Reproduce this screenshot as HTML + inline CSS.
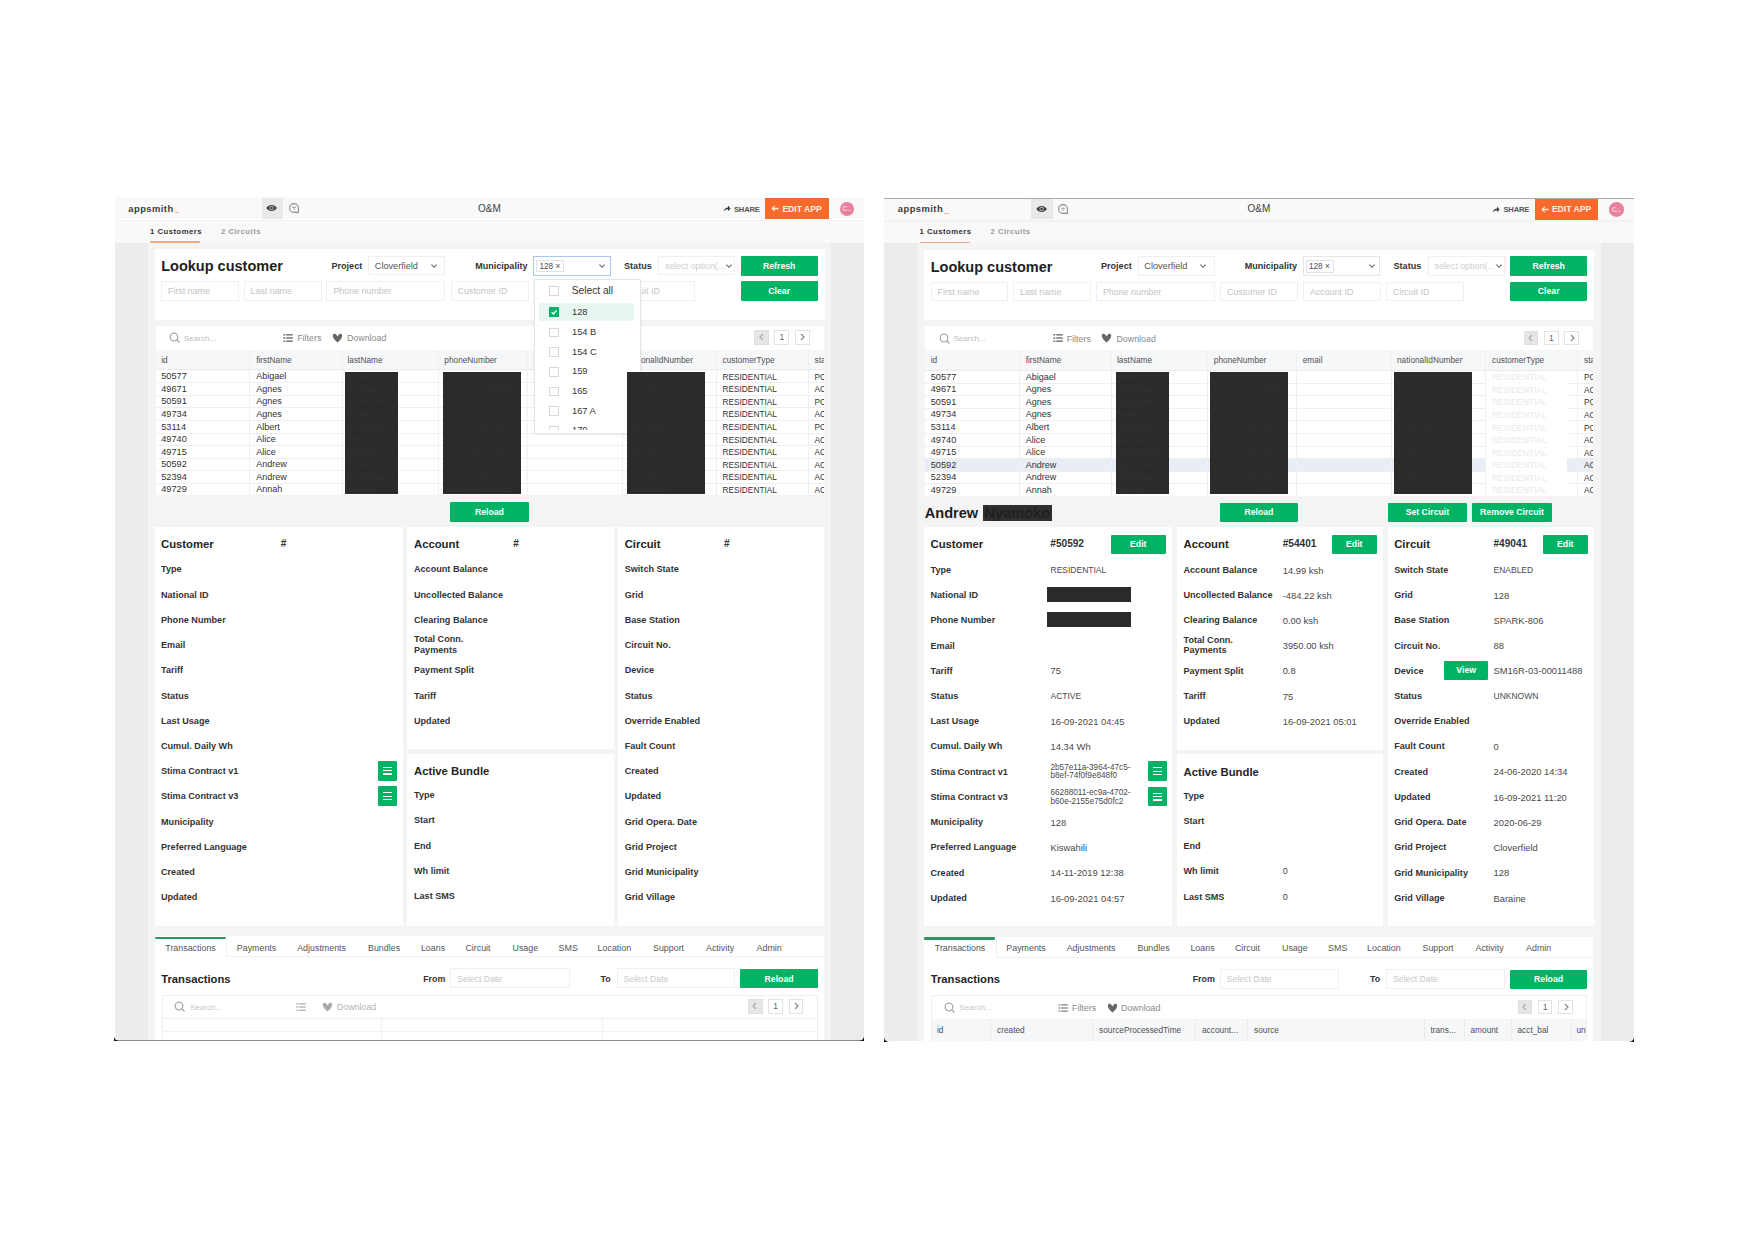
<!DOCTYPE html>
<html><head><meta charset="utf-8"><title>O&amp;M</title>
<style>
html,body{margin:0;padding:0;background:#fff;width:1748px;height:1240px;overflow:hidden;}
body{position:relative;font-family:"Liberation Sans",sans-serif;}
.a{position:absolute;}
.t{position:absolute;white-space:nowrap;}
svg.a{overflow:visible;}
</style></head><body>
<div class="a" style="left:0px;top:0px;width:1748px;height:1240px">
<div class="a" style="left:114.5px;top:197.1px;width:749.7px;height:843.4px;overflow:hidden"><div class="a" style="left:-114.5px;top:-197.1px;width:1748px;height:1240px">
<div class="a" style="left:114.5px;top:197.1px;width:749.7px;height:22.4px;background:#f9f9f9;"></div>
<div class="a" style="left:114.5px;top:219.5px;width:749.7px;height:23.5px;background:#f9f9f9;"></div>
<div class="a" style="left:114.5px;top:219.5px;width:749.7px;height:1.7px;background:#f2f2f2;"></div>
<div class="a" style="left:114.5px;top:242.9px;width:749.7px;height:797.6px;background:#ececec;"></div>
<div class="a" style="left:148px;top:242.9px;width:683px;height:797.6px;background:#f4f4f4;"></div>
<div class="t" style="left:128.3px;top:201.8px;height:13px;line-height:13px;font-size:9.4px;font-weight:700;color:#3b3b3b;letter-spacing:0.45px">appsmith</div>
<div class="a" style="left:174.8px;top:212px;width:4.7px;height:1px;background:#f0b89e;"></div>
<div class="a" style="left:261.6px;top:197.9px;width:21.5px;height:21.1px;background:#e9e9e9;"></div>
<svg class="a" style="left:266px;top:203px" width="12" height="10" viewBox="0 0 12 10"><path d="M0.4 5 C2.7 1.1 8.5 1.1 10.8 5 C8.5 8.9 2.7 8.9 0.4 5 Z" fill="#3a3a3a"/><circle cx="5.6" cy="5" r="2.3" fill="#b5b5b5"/><circle cx="5.6" cy="5" r="1.2" fill="#3a3a3a"/></svg>
<svg class="a" style="left:288.8px;top:203.1px" width="10.5" height="10.5" viewBox="0 0 10.5 10.5"><path d="M5 0.6 A4.4 4.4 0 0 0 5 9.4 L9.4 9.4 L9.4 5 A4.4 4.4 0 0 0 5 0.6 Z" fill="none" stroke="#8c8c8c" stroke-width="1.1"/><line x1="3.3" y1="4.3" x2="6.9" y2="4.3" stroke="#8c8c8c" stroke-width="0.9"/><line x1="4.4" y1="6" x2="5.8" y2="6" stroke="#8c8c8c" stroke-width="1"/></svg>
<div class="t" style="left:478px;top:201.8px;height:14px;line-height:14px;font-size:10px;font-weight:400;color:#3f3f3f;">O&amp;M</div>
<svg class="a" style="left:722.8px;top:205px" width="8" height="7" viewBox="0 0 8 7"><path d="M0.6 6.6 C1.2 3.8 3 2.6 5 2.6 L5 0.6 L7.6 3.4 L5 6.2 L5 4.3 C3.3 4.3 1.9 5 0.6 6.6 Z" fill="#3f3f3f"/></svg>
<div class="t" style="left:733.9px;top:203.5px;height:11px;line-height:11px;font-size:7.6px;font-weight:700;color:#555;letter-spacing:-0.15px">SHARE</div>
<div class="a" style="left:765.2px;top:197.9px;width:63.5px;height:21.3px;background:#f86a2b;"></div>
<svg class="a" style="left:771px;top:205.3px" width="8" height="7" viewBox="0 0 8 7"><path d="M7.6 3.5 L1.2 3.5 M3.8 0.9 L1.2 3.5 L3.8 6.1" fill="none" stroke="#ffe6d8" stroke-width="1.3"/></svg>
<div class="t" style="left:782.4px;top:202.9px;height:12px;line-height:12px;font-size:8.6px;font-weight:700;color:#fff0e8;">EDIT APP</div>
<div class="a" style="left:839.5px;top:201.6px;width:14.6px;height:14.6px;background:#e9809f;border-radius:50%"></div>
<div class="t" style="left:839.5px;width:14.6px;text-align:center;top:204.2px;height:10px;line-height:10px;font-size:7px;font-weight:700;color:#f8d0dc;">C..</div>
<div class="t" style="left:150px;top:225.7px;height:11px;line-height:11px;font-size:7.7px;font-weight:700;color:#333;letter-spacing:0.5px">1 Customers</div>
<div class="a" style="left:150px;top:241.2px;width:50.3px;height:1.4px;background:#f2a888;border-radius:1px"></div>
<div class="t" style="left:221px;top:225.7px;height:11px;line-height:11px;font-size:7.7px;font-weight:700;color:#9a9a9a;letter-spacing:0.5px">2 Circuits</div>
<div class="a" style="left:154.5px;top:249.3px;width:670.2px;height:70.3px;background:#fff;"></div>
<div class="t" style="left:161.2px;top:256.2px;height:20px;line-height:20px;font-size:14.5px;font-weight:700;color:#222;">Lookup customer</div>
<div class="t" style="left:331.5px;top:259.5px;height:13px;line-height:13px;font-size:9.05px;font-weight:700;color:#333;">Project</div>
<div class="a" style="left:368px;top:255.6px;width:77px;height:19.9px;background:#fff;box-sizing:border-box;border:1px solid #f0f0f0"></div>
<div class="t" style="left:374.8px;top:259.5px;height:13px;line-height:13px;font-size:9.15px;font-weight:400;color:#555;">Cloverfield</div>
<svg class="a" style="left:428.5px;top:260.8px" width="10" height="10" viewBox="0 0 10 10"><polyline points="2.4,3.7 5,6.3 7.6,3.7" fill="none" stroke="#666" stroke-width="1.1"/></svg>
<div class="t" style="left:475.2px;top:259.5px;height:13px;line-height:13px;font-size:9.05px;font-weight:700;color:#333;">Municipality</div>
<div class="a" style="left:533.2px;top:255.6px;width:77.6px;height:20.3px;background:#fff;box-sizing:border-box;border:1px solid #a9c9ea"></div>
<div class="a" style="left:536.3px;top:259.6px;width:28.1px;height:12.9px;background:#fff;box-sizing:border-box;border:1px solid #e2e2e2"></div>
<div class="t" style="left:539.5px;top:260.5px;height:11px;line-height:11px;font-size:8.2px;font-weight:400;color:#4a4a4a;">128 &#215;</div>
<svg class="a" style="left:597.3px;top:260.8px" width="10" height="10" viewBox="0 0 10 10"><polyline points="2.4,3.7 5,6.3 7.6,3.7" fill="none" stroke="#666" stroke-width="1.1"/></svg>
<div class="t" style="left:624px;top:259.5px;height:13px;line-height:13px;font-size:9.1px;font-weight:700;color:#333;">Status</div>
<div class="a" style="left:658px;top:255.6px;width:77.2px;height:19.9px;background:#fff;box-sizing:border-box;border:1px solid #f0f0f0"></div>
<div class="t" style="left:665px;top:259.95px;height:12px;line-height:12px;font-size:8.9px;font-weight:400;color:#cfcfcf;">select option(...</div>
<svg class="a" style="left:724px;top:260.8px" width="10" height="10" viewBox="0 0 10 10"><polyline points="2.4,3.7 5,6.3 7.6,3.7" fill="none" stroke="#666" stroke-width="1.1"/></svg>
<div class="a" style="left:740.6px;top:255.8px;width:77.2px;height:19.8px;background:#03b365;border-radius:1px"></div>
<div class="t" style="left:740.6px;width:77.2px;text-align:center;top:259.7px;height:12px;line-height:12px;font-size:8.7px;font-weight:700;color:#fff;">Refresh</div>
<div class="a" style="left:161px;top:281px;width:77.9px;height:19.8px;background:#fff;box-sizing:border-box;border:1px solid #f0f0f0"></div>
<div class="t" style="left:168px;top:285.3px;height:12px;line-height:12px;font-size:8.9px;font-weight:400;color:#c4c4c4;">First name</div>
<div class="a" style="left:243.5px;top:281px;width:78px;height:19.8px;background:#fff;box-sizing:border-box;border:1px solid #f0f0f0"></div>
<div class="t" style="left:250.5px;top:285.3px;height:12px;line-height:12px;font-size:8.9px;font-weight:400;color:#c4c4c4;">Last name</div>
<div class="a" style="left:326.4px;top:281px;width:119.1px;height:19.8px;background:#fff;box-sizing:border-box;border:1px solid #f0f0f0"></div>
<div class="t" style="left:333.4px;top:285.3px;height:12px;line-height:12px;font-size:8.9px;font-weight:400;color:#c4c4c4;">Phone number</div>
<div class="a" style="left:450.6px;top:281px;width:78.3px;height:19.8px;background:#fff;box-sizing:border-box;border:1px solid #f0f0f0"></div>
<div class="t" style="left:457.6px;top:285.3px;height:12px;line-height:12px;font-size:8.9px;font-weight:400;color:#c4c4c4;">Customer ID</div>
<div class="a" style="left:533.5px;top:281px;width:78px;height:19.8px;background:#fff;box-sizing:border-box;border:1px solid #f0f0f0"></div>
<div class="t" style="left:540.5px;top:285.3px;height:12px;line-height:12px;font-size:8.9px;font-weight:400;color:#c4c4c4;">Account ID</div>
<div class="a" style="left:616.5px;top:281px;width:78px;height:19.8px;background:#fff;box-sizing:border-box;border:1px solid #f0f0f0"></div>
<div class="t" style="left:623.5px;top:285.3px;height:12px;line-height:12px;font-size:8.9px;font-weight:400;color:#c4c4c4;">Circuit ID</div>
<div class="a" style="left:740.6px;top:281px;width:77.2px;height:19.8px;background:#03b365;border-radius:1px"></div>
<div class="t" style="left:740.6px;width:77.2px;text-align:center;top:284.9px;height:12px;line-height:12px;font-size:8.7px;font-weight:700;color:#fff;">Clear</div>
<div class="a" style="left:155.5px;top:325.7px;width:668.3px;height:169.6px;background:#fff;"></div>
<svg class="a" style="left:169px;top:332px" width="12" height="12" viewBox="0 0 12 12"><circle cx="5" cy="5" r="3.8" fill="none" stroke="#aaa" stroke-width="1.3"/><line x1="7.8" y1="7.8" x2="10.5" y2="10.5" stroke="#aaa" stroke-width="1.4"/></svg>
<div class="t" style="left:184px;top:332.7px;height:11px;line-height:11px;font-size:8px;font-weight:400;color:#bdbdbd;">Search...</div>
<svg class="a" style="left:283px;top:332.8px" width="10" height="10" viewBox="0 0 10 10"><rect x="0.3" y="1.05" width="2" height="1.5" fill="#777"/><rect x="3.2" y="1.05" width="6.6" height="1.5" fill="#777"/><rect x="0.3" y="4.25" width="2" height="1.5" fill="#777"/><rect x="3.2" y="4.25" width="6.6" height="1.5" fill="#777"/><rect x="0.3" y="7.45" width="2" height="1.5" fill="#777"/><rect x="3.2" y="7.45" width="6.6" height="1.5" fill="#777"/></svg>
<div class="t" style="left:297.2px;top:332px;height:12px;line-height:12px;font-size:8.9px;font-weight:400;color:#8a8a8a;">Filters</div>
<svg class="a" style="left:331.5px;top:332.8px" width="11" height="10" viewBox="0 0 11 10"><path d="M0.8 2.6 C0.8 0.9 2.4 0.4 3.6 0.9 L5.5 3.2 L7.4 0.9 C8.6 0.4 10.2 0.9 10.2 2.6 C10.2 5.4 7.6 7.9 5.5 9.6 C3.4 7.9 0.8 5.4 0.8 2.6 Z" fill="#666"/></svg>
<div class="t" style="left:346.9px;top:332px;height:12px;line-height:12px;font-size:8.9px;font-weight:400;color:#8a8a8a;">Download</div>
<div class="a" style="left:754.2px;top:330.1px;width:14.8px;height:14.5px;background:#e6e6e6;box-sizing:border-box;border:1px solid #e0e0e0"></div>
<div class="a" style="left:774.4px;top:330.1px;width:14.8px;height:14.5px;background:#fff;box-sizing:border-box;border:1px solid #e3e3e3"></div>
<div class="a" style="left:794.8px;top:330.1px;width:14.8px;height:14.5px;background:#fff;box-sizing:border-box;border:1px solid #e3e3e3"></div>
<svg class="a" style="left:757.6px;top:333.35px" width="8" height="8" viewBox="0 0 8 8"><polyline points="5,1 2,4 5,7" fill="none" stroke="#aaa" stroke-width="1.2"/></svg>
<div class="t" style="left:774.4px;width:14.8px;text-align:center;top:331.35px;height:12px;line-height:12px;font-size:8.5px;font-weight:400;color:#666;">1</div>
<svg class="a" style="left:798.2px;top:333.35px" width="8" height="8" viewBox="0 0 8 8"><polyline points="3,1 6,4 3,7" fill="none" stroke="#888" stroke-width="1.2"/></svg>
<div class="a" style="left:155.5px;top:325.7px;width:668.3px;height:169.6px;overflow:hidden"><div class="a" style="left:-155.5px;top:-325.7px;width:1748px;height:1240px">
<div class="a" style="left:155.5px;top:349.5px;width:668.3px;height:20px;background:#f6f7f9;"></div>
<div class="a" style="left:155.5px;top:369.2px;width:668.3px;height:0.8px;background:#e9eaec;"></div>
<div class="a" style="left:155.5px;top:382.18px;width:668.3px;height:0.8px;background:#efefef;"></div>
<div class="a" style="left:155.5px;top:394.76px;width:668.3px;height:0.8px;background:#efefef;"></div>
<div class="a" style="left:155.5px;top:407.34px;width:668.3px;height:0.8px;background:#efefef;"></div>
<div class="a" style="left:155.5px;top:419.92px;width:668.3px;height:0.8px;background:#efefef;"></div>
<div class="a" style="left:155.5px;top:432.5px;width:668.3px;height:0.8px;background:#efefef;"></div>
<div class="a" style="left:155.5px;top:445.08px;width:668.3px;height:0.8px;background:#efefef;"></div>
<div class="a" style="left:155.5px;top:457.66px;width:668.3px;height:0.8px;background:#efefef;"></div>
<div class="a" style="left:155.5px;top:470.24px;width:668.3px;height:0.8px;background:#efefef;"></div>
<div class="a" style="left:155.5px;top:482.82px;width:668.3px;height:0.8px;background:#efefef;"></div>
<div class="a" style="left:249.1px;top:349.5px;width:0.8px;height:145.8px;background:#f0f0f0;"></div>
<div class="a" style="left:341.7px;top:349.5px;width:0.8px;height:145.8px;background:#f0f0f0;"></div>
<div class="a" style="left:437.9px;top:349.5px;width:0.8px;height:145.8px;background:#f0f0f0;"></div>
<div class="a" style="left:526.5px;top:349.5px;width:0.8px;height:145.8px;background:#f0f0f0;"></div>
<div class="a" style="left:621.5px;top:349.5px;width:0.8px;height:145.8px;background:#f0f0f0;"></div>
<div class="a" style="left:715.8px;top:349.5px;width:0.8px;height:145.8px;background:#f0f0f0;"></div>
<div class="a" style="left:807.8px;top:349.5px;width:0.8px;height:145.8px;background:#f0f0f0;"></div>
<div class="t" style="left:161.2px;top:353.6px;height:12px;line-height:12px;font-size:8.3px;font-weight:400;color:#505050;">id</div>
<div class="t" style="left:256.2px;top:353.6px;height:12px;line-height:12px;font-size:8.3px;font-weight:400;color:#505050;">firstName</div>
<div class="t" style="left:347.5px;top:353.6px;height:12px;line-height:12px;font-size:8.3px;font-weight:400;color:#505050;">lastName</div>
<div class="t" style="left:444.3px;top:353.6px;height:12px;line-height:12px;font-size:8.3px;font-weight:400;color:#505050;">phoneNumber</div>
<div class="t" style="left:627.5px;top:353.6px;height:12px;line-height:12px;font-size:8.3px;font-weight:400;color:#505050;">nationalIdNumber</div>
<div class="t" style="left:722.5px;top:353.6px;height:12px;line-height:12px;font-size:8.3px;font-weight:400;color:#505050;">customerType</div>
<div class="t" style="left:814.5px;top:353.6px;height:12px;line-height:12px;font-size:8.3px;font-weight:400;color:#505050;">status</div>
<div class="t" style="left:161.2px;top:370.19px;height:13px;line-height:13px;font-size:9.2px;font-weight:400;color:#333;">50577</div>
<div class="t" style="left:256.2px;top:370.19px;height:13px;line-height:13px;font-size:9.05px;font-weight:400;color:#333;">Abigael</div>
<div class="t" style="left:814.5px;top:370.69px;height:12px;line-height:12px;font-size:8.3px;font-weight:400;color:#333;">PO</div>
<div class="t" style="left:161.2px;top:382.77px;height:13px;line-height:13px;font-size:9.2px;font-weight:400;color:#333;">49671</div>
<div class="t" style="left:256.2px;top:382.77px;height:13px;line-height:13px;font-size:9.05px;font-weight:400;color:#333;">Agnes</div>
<div class="t" style="left:814.5px;top:383.27px;height:12px;line-height:12px;font-size:8.3px;font-weight:400;color:#333;">AC</div>
<div class="t" style="left:161.2px;top:395.35px;height:13px;line-height:13px;font-size:9.2px;font-weight:400;color:#333;">50591</div>
<div class="t" style="left:256.2px;top:395.35px;height:13px;line-height:13px;font-size:9.05px;font-weight:400;color:#333;">Agnes</div>
<div class="t" style="left:814.5px;top:395.85px;height:12px;line-height:12px;font-size:8.3px;font-weight:400;color:#333;">PO</div>
<div class="t" style="left:161.2px;top:407.93px;height:13px;line-height:13px;font-size:9.2px;font-weight:400;color:#333;">49734</div>
<div class="t" style="left:256.2px;top:407.93px;height:13px;line-height:13px;font-size:9.05px;font-weight:400;color:#333;">Agnes</div>
<div class="t" style="left:814.5px;top:408.43px;height:12px;line-height:12px;font-size:8.3px;font-weight:400;color:#333;">AC</div>
<div class="t" style="left:161.2px;top:420.51px;height:13px;line-height:13px;font-size:9.2px;font-weight:400;color:#333;">53114</div>
<div class="t" style="left:256.2px;top:420.51px;height:13px;line-height:13px;font-size:9.05px;font-weight:400;color:#333;">Albert</div>
<div class="t" style="left:814.5px;top:421.01px;height:12px;line-height:12px;font-size:8.3px;font-weight:400;color:#333;">PO</div>
<div class="t" style="left:161.2px;top:433.09px;height:13px;line-height:13px;font-size:9.2px;font-weight:400;color:#333;">49740</div>
<div class="t" style="left:256.2px;top:433.09px;height:13px;line-height:13px;font-size:9.05px;font-weight:400;color:#333;">Alice</div>
<div class="t" style="left:814.5px;top:433.59px;height:12px;line-height:12px;font-size:8.3px;font-weight:400;color:#333;">AC</div>
<div class="t" style="left:161.2px;top:445.67px;height:13px;line-height:13px;font-size:9.2px;font-weight:400;color:#333;">49715</div>
<div class="t" style="left:256.2px;top:445.67px;height:13px;line-height:13px;font-size:9.05px;font-weight:400;color:#333;">Alice</div>
<div class="t" style="left:814.5px;top:446.17px;height:12px;line-height:12px;font-size:8.3px;font-weight:400;color:#333;">AC</div>
<div class="t" style="left:161.2px;top:458.25px;height:13px;line-height:13px;font-size:9.2px;font-weight:400;color:#333;">50592</div>
<div class="t" style="left:256.2px;top:458.25px;height:13px;line-height:13px;font-size:9.05px;font-weight:400;color:#333;">Andrew</div>
<div class="t" style="left:814.5px;top:458.75px;height:12px;line-height:12px;font-size:8.3px;font-weight:400;color:#333;">AC</div>
<div class="t" style="left:161.2px;top:470.83px;height:13px;line-height:13px;font-size:9.2px;font-weight:400;color:#333;">52394</div>
<div class="t" style="left:256.2px;top:470.83px;height:13px;line-height:13px;font-size:9.05px;font-weight:400;color:#333;">Andrew</div>
<div class="t" style="left:814.5px;top:471.33px;height:12px;line-height:12px;font-size:8.3px;font-weight:400;color:#333;">AC</div>
<div class="t" style="left:161.2px;top:483.41px;height:13px;line-height:13px;font-size:9.2px;font-weight:400;color:#333;">49729</div>
<div class="t" style="left:256.2px;top:483.41px;height:13px;line-height:13px;font-size:9.05px;font-weight:400;color:#333;">Annah</div>
<div class="t" style="left:814.5px;top:483.91px;height:12px;line-height:12px;font-size:8.3px;font-weight:400;color:#333;">AC</div>
<div class="t" style="left:722.5px;top:370.69px;height:12px;line-height:12px;font-size:8.3px;font-weight:400;color:#333;">RESIDENTIAL</div>
<div class="t" style="left:722.5px;top:383.27px;height:12px;line-height:12px;font-size:8.3px;font-weight:400;color:#333;">RESIDENTIAL</div>
<div class="t" style="left:722.5px;top:395.85px;height:12px;line-height:12px;font-size:8.3px;font-weight:400;color:#333;">RESIDENTIAL</div>
<div class="t" style="left:722.5px;top:408.43px;height:12px;line-height:12px;font-size:8.3px;font-weight:400;color:#333;">RESIDENTIAL</div>
<div class="t" style="left:722.5px;top:421.01px;height:12px;line-height:12px;font-size:8.3px;font-weight:400;color:#333;">RESIDENTIAL</div>
<div class="t" style="left:722.5px;top:433.59px;height:12px;line-height:12px;font-size:8.3px;font-weight:400;color:#333;">RESIDENTIAL</div>
<div class="t" style="left:722.5px;top:446.17px;height:12px;line-height:12px;font-size:8.3px;font-weight:400;color:#333;">RESIDENTIAL</div>
<div class="t" style="left:722.5px;top:458.75px;height:12px;line-height:12px;font-size:8.3px;font-weight:400;color:#333;">RESIDENTIAL</div>
<div class="t" style="left:722.5px;top:471.33px;height:12px;line-height:12px;font-size:8.3px;font-weight:400;color:#333;">RESIDENTIAL</div>
<div class="t" style="left:722.5px;top:483.91px;height:12px;line-height:12px;font-size:8.3px;font-weight:400;color:#333;">RESIDENTIAL</div>
</div></div>
<div class="a" style="left:533.5px;top:278.5px;width:107.3px;height:155.9px;background:#fff;box-sizing:border-box;border:1px solid #e4e4e4;box-shadow:0 1px 3px rgba(0,0,0,0.08)"></div>
<div class="a" style="left:549px;top:285.7px;width:10px;height:9.9px;background:#fff;box-sizing:border-box;border:1px solid #d6d6d6"></div>
<div class="t" style="left:571.8px;top:283.5px;height:14px;line-height:14px;font-size:10.2px;font-weight:400;color:#333;">Select all</div>
<div class="a" style="left:538.6px;top:303.3px;width:95.7px;height:18.1px;background:#e7f7ef;"></div>
<div class="a" style="left:549px;top:307.3px;width:10px;height:9.9px;background:#03b365;"></div>
<svg class="a" style="left:549px;top:307.3px" width="10" height="10" viewBox="0 0 10 10"><polyline points="2.6,5.2 4.4,7 7.6,3.4" fill="none" stroke="#fff" stroke-width="1.3"/></svg>
<div class="t" style="left:572px;top:305.8px;height:13px;line-height:13px;font-size:9.3px;font-weight:400;color:#333;">128</div>
<div class="a" style="left:534.5px;top:279.5px;width:105.3px;height:150.3px;overflow:hidden"><div class="a" style="left:-534.5px;top:-279.5px;width:1748px;height:1240px">
<div class="a" style="left:549px;top:327.7px;width:10px;height:9.8px;background:#fff;box-sizing:border-box;border:1px solid #d9d9d9"></div>
<div class="t" style="left:572px;top:326.1px;height:13px;line-height:13px;font-size:9.3px;font-weight:400;color:#333;">154 B</div>
<div class="a" style="left:549px;top:347.2px;width:10px;height:9.8px;background:#fff;box-sizing:border-box;border:1px solid #d9d9d9"></div>
<div class="t" style="left:572px;top:345.6px;height:13px;line-height:13px;font-size:9.3px;font-weight:400;color:#333;">154 C</div>
<div class="a" style="left:549px;top:366.8px;width:10px;height:9.8px;background:#fff;box-sizing:border-box;border:1px solid #d9d9d9"></div>
<div class="t" style="left:572px;top:365.2px;height:13px;line-height:13px;font-size:9.3px;font-weight:400;color:#333;">159</div>
<div class="a" style="left:549px;top:386.5px;width:10px;height:9.8px;background:#fff;box-sizing:border-box;border:1px solid #d9d9d9"></div>
<div class="t" style="left:572px;top:384.9px;height:13px;line-height:13px;font-size:9.3px;font-weight:400;color:#333;">165</div>
<div class="a" style="left:549px;top:406.1px;width:10px;height:9.8px;background:#fff;box-sizing:border-box;border:1px solid #d9d9d9"></div>
<div class="t" style="left:572px;top:404.5px;height:13px;line-height:13px;font-size:9.3px;font-weight:400;color:#333;">167 A</div>
<div class="a" style="left:549px;top:425.7px;width:10px;height:9.8px;background:#fff;box-sizing:border-box;border:1px solid #d9d9d9"></div>
<div class="t" style="left:572px;top:424.1px;height:13px;line-height:13px;font-size:9.3px;font-weight:400;color:#333;">170</div>
</div></div>
<div class="a" style="left:344.8px;top:371.8px;width:53.2px;height:121.8px;background:#2b2b2b;"></div>
<div class="a" style="left:344.8px;top:371.8px;width:53.2px;height:121.8px;overflow:hidden"><div class="a" style="left:-344.8px;top:-371.8px;width:1748px;height:1240px">
<div class="t" style="left:347.5px;top:370.19px;height:13px;line-height:13px;font-size:9.2px;font-weight:400;color:#313131;">Mwangi</div>
<div class="t" style="left:347.5px;top:382.77px;height:13px;line-height:13px;font-size:9.2px;font-weight:400;color:#313131;">Chebeta</div>
<div class="t" style="left:347.5px;top:395.35px;height:13px;line-height:13px;font-size:9.2px;font-weight:400;color:#313131;">Nyamoko</div>
<div class="t" style="left:347.5px;top:407.93px;height:13px;line-height:13px;font-size:9.2px;font-weight:400;color:#313131;">Nyakio</div>
<div class="t" style="left:347.5px;top:420.51px;height:13px;line-height:13px;font-size:9.2px;font-weight:400;color:#313131;">Ochienge</div>
<div class="t" style="left:347.5px;top:433.09px;height:13px;line-height:13px;font-size:9.2px;font-weight:400;color:#313131;">Wafula</div>
<div class="t" style="left:347.5px;top:445.67px;height:13px;line-height:13px;font-size:9.2px;font-weight:400;color:#313131;">Nyambura</div>
<div class="t" style="left:347.5px;top:458.25px;height:13px;line-height:13px;font-size:9.2px;font-weight:400;color:#313131;">Nyamoko</div>
<div class="t" style="left:347.5px;top:470.83px;height:13px;line-height:13px;font-size:9.2px;font-weight:400;color:#313131;">Ochienge</div>
<div class="t" style="left:347.5px;top:483.41px;height:13px;line-height:13px;font-size:9.2px;font-weight:400;color:#313131;">Wanja</div>
</div></div>
<div class="a" style="left:442.6px;top:371.8px;width:78.2px;height:121.8px;background:#2b2b2b;"></div>
<div class="a" style="left:442.6px;top:371.8px;width:78.2px;height:121.8px;overflow:hidden"><div class="a" style="left:-442.6px;top:-371.8px;width:1748px;height:1240px">
<div class="t" style="left:446.3px;top:370.19px;height:13px;line-height:13px;font-size:9.2px;font-weight:400;color:#303030;">+254700040801</div>
<div class="t" style="left:446.3px;top:382.77px;height:13px;line-height:13px;font-size:9.2px;font-weight:400;color:#303030;">+254713745891</div>
<div class="t" style="left:446.3px;top:395.35px;height:13px;line-height:13px;font-size:9.2px;font-weight:400;color:#303030;">+254726440881</div>
<div class="t" style="left:446.3px;top:407.93px;height:13px;line-height:13px;font-size:9.2px;font-weight:400;color:#303030;">+254739145871</div>
<div class="t" style="left:446.3px;top:420.51px;height:13px;line-height:13px;font-size:9.2px;font-weight:400;color:#303030;">+254742840861</div>
<div class="t" style="left:446.3px;top:433.09px;height:13px;line-height:13px;font-size:9.2px;font-weight:400;color:#303030;">+254755545851</div>
<div class="t" style="left:446.3px;top:445.67px;height:13px;line-height:13px;font-size:9.2px;font-weight:400;color:#303030;">+254768240841</div>
<div class="t" style="left:446.3px;top:458.25px;height:13px;line-height:13px;font-size:9.2px;font-weight:400;color:#303030;">+254771945831</div>
<div class="t" style="left:446.3px;top:470.83px;height:13px;line-height:13px;font-size:9.2px;font-weight:400;color:#303030;">+254784640821</div>
<div class="t" style="left:446.3px;top:483.41px;height:13px;line-height:13px;font-size:9.2px;font-weight:400;color:#303030;">+254797345811</div>
</div></div>
<div class="a" style="left:626.8px;top:371.8px;width:77.8px;height:121.8px;background:#2b2b2b;"></div>
<div class="a" style="left:626.8px;top:371.8px;width:77.8px;height:121.8px;overflow:hidden"><div class="a" style="left:-626.8px;top:-371.8px;width:1748px;height:1240px">
<div class="t" style="left:631.5px;top:370.19px;height:13px;line-height:13px;font-size:9.2px;font-weight:400;color:#303030;">2000000</div>
<div class="t" style="left:631.5px;top:382.77px;height:13px;line-height:13px;font-size:9.2px;font-weight:400;color:#303030;">2371924</div>
<div class="t" style="left:631.5px;top:395.35px;height:13px;line-height:13px;font-size:9.2px;font-weight:400;color:#303030;">2642848</div>
<div class="t" style="left:631.5px;top:407.93px;height:13px;line-height:13px;font-size:9.2px;font-weight:400;color:#303030;">2913762</div>
<div class="t" style="left:631.5px;top:420.51px;height:13px;line-height:13px;font-size:9.2px;font-weight:400;color:#303030;">2284686</div>
<div class="t" style="left:631.5px;top:433.09px;height:13px;line-height:13px;font-size:9.2px;font-weight:400;color:#303030;">2555500</div>
<div class="t" style="left:631.5px;top:445.67px;height:13px;line-height:13px;font-size:9.2px;font-weight:400;color:#303030;">2826424</div>
<div class="t" style="left:631.5px;top:458.25px;height:13px;line-height:13px;font-size:9.2px;font-weight:400;color:#303030;">2197348</div>
<div class="t" style="left:631.5px;top:470.83px;height:13px;line-height:13px;font-size:9.2px;font-weight:400;color:#303030;">2468262</div>
<div class="t" style="left:631.5px;top:483.41px;height:13px;line-height:13px;font-size:9.2px;font-weight:400;color:#303030;">2739186</div>
</div></div>
<div class="a" style="left:450px;top:502.2px;width:78.9px;height:19.4px;background:#03b365;border-radius:1px"></div>
<div class="t" style="left:450px;width:78.9px;text-align:center;top:505.9px;height:12px;line-height:12px;font-size:8.7px;font-weight:700;color:#fff;">Reload</div>
<div class="a" style="left:154.5px;top:526.8px;width:248.3px;height:399px;background:#fff;"></div>
<div class="a" style="left:407.2px;top:526.8px;width:206.4px;height:222.5px;background:#fff;"></div>
<div class="a" style="left:407.2px;top:753.7px;width:206.4px;height:172.1px;background:#fff;"></div>
<div class="a" style="left:618.2px;top:526.8px;width:206.3px;height:399px;background:#fff;"></div>
<div class="t" style="left:161px;top:535.8px;height:16px;line-height:16px;font-size:11.3px;font-weight:700;color:#252525;">Customer</div>
<div class="t" style="left:280.8px;top:536.8px;height:14px;line-height:14px;font-size:10.1px;font-weight:700;color:#333;">#</div>
<div class="t" style="left:161px;top:563.3px;height:13px;line-height:13px;font-size:9.1px;font-weight:700;color:#333;">Type</div>
<div class="t" style="left:161px;top:588.54px;height:13px;line-height:13px;font-size:9.1px;font-weight:700;color:#333;">National ID</div>
<div class="t" style="left:161px;top:613.78px;height:13px;line-height:13px;font-size:9.1px;font-weight:700;color:#333;">Phone Number</div>
<div class="t" style="left:161px;top:639.02px;height:13px;line-height:13px;font-size:9.1px;font-weight:700;color:#333;">Email</div>
<div class="t" style="left:161px;top:664.26px;height:13px;line-height:13px;font-size:9.1px;font-weight:700;color:#333;">Tariff</div>
<div class="t" style="left:161px;top:689.5px;height:13px;line-height:13px;font-size:9.1px;font-weight:700;color:#333;">Status</div>
<div class="t" style="left:161px;top:714.74px;height:13px;line-height:13px;font-size:9.1px;font-weight:700;color:#333;">Last Usage</div>
<div class="t" style="left:161px;top:739.98px;height:13px;line-height:13px;font-size:9.1px;font-weight:700;color:#333;">Cumul. Daily Wh</div>
<div class="t" style="left:161px;top:765.22px;height:13px;line-height:13px;font-size:9.1px;font-weight:700;color:#333;">Stima Contract v1</div>
<div class="t" style="left:161px;top:790.46px;height:13px;line-height:13px;font-size:9.1px;font-weight:700;color:#333;">Stima Contract v3</div>
<div class="t" style="left:161px;top:815.7px;height:13px;line-height:13px;font-size:9.1px;font-weight:700;color:#333;">Municipality</div>
<div class="t" style="left:161px;top:840.94px;height:13px;line-height:13px;font-size:9.1px;font-weight:700;color:#333;">Preferred Language</div>
<div class="t" style="left:161px;top:866.18px;height:13px;line-height:13px;font-size:9.1px;font-weight:700;color:#333;">Created</div>
<div class="t" style="left:161px;top:891.42px;height:13px;line-height:13px;font-size:9.1px;font-weight:700;color:#333;">Updated</div>
<div class="a" style="left:378.3px;top:760.8px;width:19px;height:19.8px;background:#03b365;border-radius:1px"></div>
<div class="a" style="left:383.43px;top:766.73px;width:8.74px;height:1.2px;background:#fff;"></div>
<div class="a" style="left:383.43px;top:770.1px;width:8.74px;height:1.2px;background:#fff;"></div>
<div class="a" style="left:383.43px;top:773.47px;width:8.74px;height:1.2px;background:#fff;"></div>
<div class="a" style="left:378.3px;top:786.2px;width:19px;height:19.8px;background:#03b365;border-radius:1px"></div>
<div class="a" style="left:383.43px;top:792.13px;width:8.74px;height:1.2px;background:#fff;"></div>
<div class="a" style="left:383.43px;top:795.5px;width:8.74px;height:1.2px;background:#fff;"></div>
<div class="a" style="left:383.43px;top:798.87px;width:8.74px;height:1.2px;background:#fff;"></div>
<div class="t" style="left:414px;top:535.8px;height:16px;line-height:16px;font-size:11.3px;font-weight:700;color:#252525;">Account</div>
<div class="t" style="left:513.2px;top:536.8px;height:14px;line-height:14px;font-size:10.1px;font-weight:700;color:#333;">#</div>
<div class="t" style="left:414px;top:563.3px;height:13px;line-height:13px;font-size:9.1px;font-weight:700;color:#333;">Account Balance</div>
<div class="t" style="left:414px;top:588.54px;height:13px;line-height:13px;font-size:9.1px;font-weight:700;color:#333;">Uncollected Balance</div>
<div class="t" style="left:414px;top:613.78px;height:13px;line-height:13px;font-size:9.1px;font-weight:700;color:#333;">Clearing Balance</div>
<div class="t" style="left:414px;top:664.26px;height:13px;line-height:13px;font-size:9.1px;font-weight:700;color:#333;">Payment Split</div>
<div class="t" style="left:414px;top:689.5px;height:13px;line-height:13px;font-size:9.1px;font-weight:700;color:#333;">Tariff</div>
<div class="t" style="left:414px;top:714.74px;height:13px;line-height:13px;font-size:9.1px;font-weight:700;color:#333;">Updated</div>
<div class="t" style="left:414px;top:633.1px;height:13px;line-height:13px;font-size:9.1px;font-weight:700;color:#333;">Total Conn.</div>
<div class="t" style="left:414px;top:643.7px;height:13px;line-height:13px;font-size:9.1px;font-weight:700;color:#333;">Payments</div>
<div class="t" style="left:414px;top:763px;height:16px;line-height:16px;font-size:11.3px;font-weight:700;color:#252525;">Active Bundle</div>
<div class="t" style="left:414px;top:789.2px;height:13px;line-height:13px;font-size:9.1px;font-weight:700;color:#333;">Type</div>
<div class="t" style="left:414px;top:814.4px;height:13px;line-height:13px;font-size:9.1px;font-weight:700;color:#333;">Start</div>
<div class="t" style="left:414px;top:839.6px;height:13px;line-height:13px;font-size:9.1px;font-weight:700;color:#333;">End</div>
<div class="t" style="left:414px;top:864.8px;height:13px;line-height:13px;font-size:9.1px;font-weight:700;color:#333;">Wh limit</div>
<div class="t" style="left:414px;top:890px;height:13px;line-height:13px;font-size:9.1px;font-weight:700;color:#333;">Last SMS</div>
<div class="t" style="left:624.7px;top:535.8px;height:16px;line-height:16px;font-size:11.3px;font-weight:700;color:#252525;">Circuit</div>
<div class="t" style="left:724px;top:536.8px;height:14px;line-height:14px;font-size:10.1px;font-weight:700;color:#333;">#</div>
<div class="t" style="left:624.7px;top:563.3px;height:13px;line-height:13px;font-size:9.1px;font-weight:700;color:#333;">Switch State</div>
<div class="t" style="left:624.7px;top:588.54px;height:13px;line-height:13px;font-size:9.1px;font-weight:700;color:#333;">Grid</div>
<div class="t" style="left:624.7px;top:613.78px;height:13px;line-height:13px;font-size:9.1px;font-weight:700;color:#333;">Base Station</div>
<div class="t" style="left:624.7px;top:639.02px;height:13px;line-height:13px;font-size:9.1px;font-weight:700;color:#333;">Circuit No.</div>
<div class="t" style="left:624.7px;top:664.26px;height:13px;line-height:13px;font-size:9.1px;font-weight:700;color:#333;">Device</div>
<div class="t" style="left:624.7px;top:689.5px;height:13px;line-height:13px;font-size:9.1px;font-weight:700;color:#333;">Status</div>
<div class="t" style="left:624.7px;top:714.74px;height:13px;line-height:13px;font-size:9.1px;font-weight:700;color:#333;">Override Enabled</div>
<div class="t" style="left:624.7px;top:739.98px;height:13px;line-height:13px;font-size:9.1px;font-weight:700;color:#333;">Fault Count</div>
<div class="t" style="left:624.7px;top:765.22px;height:13px;line-height:13px;font-size:9.1px;font-weight:700;color:#333;">Created</div>
<div class="t" style="left:624.7px;top:790.46px;height:13px;line-height:13px;font-size:9.1px;font-weight:700;color:#333;">Updated</div>
<div class="t" style="left:624.7px;top:815.7px;height:13px;line-height:13px;font-size:9.1px;font-weight:700;color:#333;">Grid Opera. Date</div>
<div class="t" style="left:624.7px;top:840.94px;height:13px;line-height:13px;font-size:9.1px;font-weight:700;color:#333;">Grid Project</div>
<div class="t" style="left:624.7px;top:866.18px;height:13px;line-height:13px;font-size:9.1px;font-weight:700;color:#333;">Grid Municipality</div>
<div class="t" style="left:624.7px;top:891.42px;height:13px;line-height:13px;font-size:9.1px;font-weight:700;color:#333;">Grid Village</div>
<div class="a" style="left:154.6px;top:936.3px;width:669.4px;height:108.7px;background:#fff;"></div>
<div class="a" style="left:226.4px;top:956.3px;width:597.6px;height:0.8px;background:#efefef;"></div>
<div class="a" style="left:226px;top:939px;width:0.8px;height:18px;background:#f0f0f0;"></div>
<div class="a" style="left:154.6px;top:936.6px;width:71.4px;height:2.8px;background:#2f9462;border-radius:1px"></div>
<div class="t" style="left:165.3px;top:941.6px;height:12px;line-height:12px;font-size:8.9px;font-weight:400;color:#555;">Transactions</div>
<div class="t" style="left:236.8px;top:941.6px;height:12px;line-height:12px;font-size:8.9px;font-weight:400;color:#555;">Payments</div>
<div class="t" style="left:297.2px;top:941.6px;height:12px;line-height:12px;font-size:8.9px;font-weight:400;color:#555;">Adjustments</div>
<div class="t" style="left:368px;top:941.6px;height:12px;line-height:12px;font-size:8.9px;font-weight:400;color:#555;">Bundles</div>
<div class="t" style="left:420.9px;top:941.6px;height:12px;line-height:12px;font-size:8.9px;font-weight:400;color:#555;">Loans</div>
<div class="t" style="left:465.4px;top:941.6px;height:12px;line-height:12px;font-size:8.9px;font-weight:400;color:#555;">Circuit</div>
<div class="t" style="left:512.5px;top:941.6px;height:12px;line-height:12px;font-size:8.9px;font-weight:400;color:#555;">Usage</div>
<div class="t" style="left:558.6px;top:941.6px;height:12px;line-height:12px;font-size:8.9px;font-weight:400;color:#555;">SMS</div>
<div class="t" style="left:597.6px;top:941.6px;height:12px;line-height:12px;font-size:8.9px;font-weight:400;color:#555;">Location</div>
<div class="t" style="left:653px;top:941.6px;height:12px;line-height:12px;font-size:8.9px;font-weight:400;color:#555;">Support</div>
<div class="t" style="left:706px;top:941.6px;height:12px;line-height:12px;font-size:8.9px;font-weight:400;color:#555;">Activity</div>
<div class="t" style="left:756.6px;top:941.6px;height:12px;line-height:12px;font-size:8.9px;font-weight:400;color:#555;">Admin</div>
<div class="t" style="left:161.2px;top:970.9px;height:16px;line-height:16px;font-size:11.25px;font-weight:700;color:#252525;">Transactions</div>
<div class="t" style="left:423.2px;top:972.6px;height:12px;line-height:12px;font-size:8.85px;font-weight:700;color:#333;">From</div>
<div class="a" style="left:450.3px;top:968.3px;width:119.6px;height:20.1px;background:#fff;box-sizing:border-box;border:1px solid #f0f0f0"></div>
<div class="t" style="left:457.3px;top:972.75px;height:12px;line-height:12px;font-size:8.7px;font-weight:400;color:#c8c8c8;">Select Date</div>
<div class="t" style="left:600.5px;top:972.6px;height:12px;line-height:12px;font-size:8.85px;font-weight:700;color:#333;">To</div>
<div class="a" style="left:616.5px;top:968.3px;width:118.8px;height:20.1px;background:#fff;box-sizing:border-box;border:1px solid #f0f0f0"></div>
<div class="t" style="left:623.5px;top:972.75px;height:12px;line-height:12px;font-size:8.7px;font-weight:400;color:#c8c8c8;">Select Date</div>
<div class="a" style="left:740.3px;top:969px;width:77.5px;height:19.4px;background:#03b365;border-radius:1px"></div>
<div class="t" style="left:740.3px;width:77.5px;text-align:center;top:972.7px;height:12px;line-height:12px;font-size:8.7px;font-weight:700;color:#fff;">Reload</div>
<div class="a" style="left:161.6px;top:994.6px;width:656.2px;height:50.4px;background:#fff;box-sizing:border-box;border:1px solid #eeeeee"></div>
<svg class="a" style="left:174px;top:1001.3px" width="12" height="12" viewBox="0 0 12 12"><circle cx="5" cy="5" r="3.8" fill="none" stroke="#aaa" stroke-width="1.3"/><line x1="7.8" y1="7.8" x2="10.5" y2="10.5" stroke="#aaa" stroke-width="1.4"/></svg>
<div class="t" style="left:190px;top:1001.9px;height:11px;line-height:11px;font-size:8px;font-weight:400;color:#c4c4c4;">Search...</div>
<svg class="a" style="left:295.6px;top:1002px" width="10" height="10" viewBox="0 0 10 10"><rect x="0.3" y="1.05" width="2" height="1.5" fill="#bbb"/><rect x="3.2" y="1.05" width="6.6" height="1.5" fill="#bbb"/><rect x="0.3" y="4.25" width="2" height="1.5" fill="#bbb"/><rect x="3.2" y="4.25" width="6.6" height="1.5" fill="#bbb"/><rect x="0.3" y="7.45" width="2" height="1.5" fill="#bbb"/><rect x="3.2" y="7.45" width="6.6" height="1.5" fill="#bbb"/></svg>
<svg class="a" style="left:322px;top:1002px" width="11" height="10" viewBox="0 0 11 10"><path d="M0.8 2.6 C0.8 0.9 2.4 0.4 3.6 0.9 L5.5 3.2 L7.4 0.9 C8.6 0.4 10.2 0.9 10.2 2.6 C10.2 5.4 7.6 7.9 5.5 9.6 C3.4 7.9 0.8 5.4 0.8 2.6 Z" fill="#aaa"/></svg>
<div class="t" style="left:336.8px;top:1001.4px;height:12px;line-height:12px;font-size:8.9px;font-weight:400;color:#b5b5b5;">Download</div>
<div class="a" style="left:748px;top:999px;width:14.8px;height:14.6px;background:#e6e6e6;box-sizing:border-box;border:1px solid #e0e0e0"></div>
<div class="a" style="left:768.2px;top:999px;width:14.8px;height:14.6px;background:#fff;box-sizing:border-box;border:1px solid #e3e3e3"></div>
<div class="a" style="left:788.6px;top:999px;width:14.8px;height:14.6px;background:#fff;box-sizing:border-box;border:1px solid #e3e3e3"></div>
<svg class="a" style="left:751.4px;top:1002.3px" width="8" height="8" viewBox="0 0 8 8"><polyline points="5,1 2,4 5,7" fill="none" stroke="#aaa" stroke-width="1.2"/></svg>
<div class="t" style="left:768.2px;width:14.8px;text-align:center;top:1000.3px;height:12px;line-height:12px;font-size:8.5px;font-weight:400;color:#666;">1</div>
<svg class="a" style="left:792px;top:1002.3px" width="8" height="8" viewBox="0 0 8 8"><polyline points="3,1 6,4 3,7" fill="none" stroke="#888" stroke-width="1.2"/></svg>
<div class="a" style="left:162.6px;top:1017.6px;width:654.2px;height:0.8px;background:#efefef;"></div>
<div class="a" style="left:162.6px;top:1030.8px;width:654.2px;height:0.8px;background:#f1f1f1;"></div>
<div class="a" style="left:381.3px;top:1018px;width:0.8px;height:27px;background:#f1f1f1;"></div>
<div class="a" style="left:602.2px;top:1018px;width:0.8px;height:27px;background:#f1f1f1;"></div>
</div></div>
<div class="a" style="left:114.5px;top:1039.8px;width:749.7px;height:1.2px;background:#8a8a8a;"></div>
<svg class="a" style="left:114.2px;top:1036px" width="5" height="5" viewBox="0 0 5 5"><path d="M0 0 L0 5 L5 5 A5 5 0 0 1 0 0 Z" fill="#111"/></svg>
<svg class="a" style="left:859.4px;top:1036px" width="5" height="5" viewBox="0 0 5 5"><path d="M5 0 L5 5 L0 5 A5 5 0 0 0 5 0 Z" fill="#111"/></svg>
</div>
<div class="a" style="left:769.5px;top:0.5px;width:1748px;height:1240px">
<div class="a" style="left:114.5px;top:197.1px;width:749.7px;height:843.4px;overflow:hidden"><div class="a" style="left:-114.5px;top:-197.1px;width:1748px;height:1240px">
<div class="a" style="left:114.5px;top:197.1px;width:749.7px;height:22.4px;background:#f9f9f9;"></div>
<div class="a" style="left:114.5px;top:219.5px;width:749.7px;height:23.5px;background:#f9f9f9;"></div>
<div class="a" style="left:114.5px;top:219.5px;width:749.7px;height:1.7px;background:#f2f2f2;"></div>
<div class="a" style="left:114.5px;top:242.9px;width:749.7px;height:797.6px;background:#ececec;"></div>
<div class="a" style="left:148px;top:242.9px;width:683px;height:797.6px;background:#f4f4f4;"></div>
<div class="t" style="left:128.3px;top:201.8px;height:13px;line-height:13px;font-size:9.4px;font-weight:700;color:#3b3b3b;letter-spacing:0.45px">appsmith</div>
<div class="a" style="left:174.8px;top:212px;width:4.7px;height:1px;background:#f0b89e;"></div>
<div class="a" style="left:261.6px;top:197.9px;width:21.5px;height:21.1px;background:#e9e9e9;"></div>
<svg class="a" style="left:266px;top:203px" width="12" height="10" viewBox="0 0 12 10"><path d="M0.4 5 C2.7 1.1 8.5 1.1 10.8 5 C8.5 8.9 2.7 8.9 0.4 5 Z" fill="#3a3a3a"/><circle cx="5.6" cy="5" r="2.3" fill="#b5b5b5"/><circle cx="5.6" cy="5" r="1.2" fill="#3a3a3a"/></svg>
<svg class="a" style="left:288.8px;top:203.1px" width="10.5" height="10.5" viewBox="0 0 10.5 10.5"><path d="M5 0.6 A4.4 4.4 0 0 0 5 9.4 L9.4 9.4 L9.4 5 A4.4 4.4 0 0 0 5 0.6 Z" fill="none" stroke="#8c8c8c" stroke-width="1.1"/><line x1="3.3" y1="4.3" x2="6.9" y2="4.3" stroke="#8c8c8c" stroke-width="0.9"/><line x1="4.4" y1="6" x2="5.8" y2="6" stroke="#8c8c8c" stroke-width="1"/></svg>
<div class="t" style="left:478px;top:201.8px;height:14px;line-height:14px;font-size:10px;font-weight:400;color:#3f3f3f;">O&amp;M</div>
<svg class="a" style="left:722.8px;top:205px" width="8" height="7" viewBox="0 0 8 7"><path d="M0.6 6.6 C1.2 3.8 3 2.6 5 2.6 L5 0.6 L7.6 3.4 L5 6.2 L5 4.3 C3.3 4.3 1.9 5 0.6 6.6 Z" fill="#3f3f3f"/></svg>
<div class="t" style="left:733.9px;top:203.5px;height:11px;line-height:11px;font-size:7.6px;font-weight:700;color:#555;letter-spacing:-0.15px">SHARE</div>
<div class="a" style="left:765.2px;top:197.9px;width:63.5px;height:21.3px;background:#f86a2b;"></div>
<svg class="a" style="left:771px;top:205.3px" width="8" height="7" viewBox="0 0 8 7"><path d="M7.6 3.5 L1.2 3.5 M3.8 0.9 L1.2 3.5 L3.8 6.1" fill="none" stroke="#ffe6d8" stroke-width="1.3"/></svg>
<div class="t" style="left:782.4px;top:202.9px;height:12px;line-height:12px;font-size:8.6px;font-weight:700;color:#fff0e8;">EDIT APP</div>
<div class="a" style="left:839.5px;top:201.6px;width:14.6px;height:14.6px;background:#e9809f;border-radius:50%"></div>
<div class="t" style="left:839.5px;width:14.6px;text-align:center;top:204.2px;height:10px;line-height:10px;font-size:7px;font-weight:700;color:#f8d0dc;">C..</div>
<div class="t" style="left:150px;top:225.7px;height:11px;line-height:11px;font-size:7.7px;font-weight:700;color:#333;letter-spacing:0.5px">1 Customers</div>
<div class="a" style="left:150px;top:241.2px;width:50.3px;height:1.4px;background:#f2a888;border-radius:1px"></div>
<div class="t" style="left:221px;top:225.7px;height:11px;line-height:11px;font-size:7.7px;font-weight:700;color:#9a9a9a;letter-spacing:0.5px">2 Circuits</div>
<div class="a" style="left:154.5px;top:249.3px;width:670.2px;height:70.3px;background:#fff;"></div>
<div class="t" style="left:161.2px;top:256.2px;height:20px;line-height:20px;font-size:14.5px;font-weight:700;color:#222;">Lookup customer</div>
<div class="t" style="left:331.5px;top:259.5px;height:13px;line-height:13px;font-size:9.05px;font-weight:700;color:#333;">Project</div>
<div class="a" style="left:368px;top:255.6px;width:77px;height:19.9px;background:#fff;box-sizing:border-box;border:1px solid #f0f0f0"></div>
<div class="t" style="left:374.8px;top:259.5px;height:13px;line-height:13px;font-size:9.15px;font-weight:400;color:#555;">Cloverfield</div>
<svg class="a" style="left:428.5px;top:260.8px" width="10" height="10" viewBox="0 0 10 10"><polyline points="2.4,3.7 5,6.3 7.6,3.7" fill="none" stroke="#666" stroke-width="1.1"/></svg>
<div class="t" style="left:475.2px;top:259.5px;height:13px;line-height:13px;font-size:9.05px;font-weight:700;color:#333;">Municipality</div>
<div class="a" style="left:533.2px;top:255.6px;width:77.6px;height:20.3px;background:#fff;box-sizing:border-box;border:1px solid #e6e6e6"></div>
<div class="a" style="left:536.3px;top:259.6px;width:28.1px;height:12.9px;background:#fff;box-sizing:border-box;border:1px solid #e2e2e2"></div>
<div class="t" style="left:539.5px;top:260.5px;height:11px;line-height:11px;font-size:8.2px;font-weight:400;color:#4a4a4a;">128 &#215;</div>
<svg class="a" style="left:597.3px;top:260.8px" width="10" height="10" viewBox="0 0 10 10"><polyline points="2.4,3.7 5,6.3 7.6,3.7" fill="none" stroke="#666" stroke-width="1.1"/></svg>
<div class="t" style="left:624px;top:259.5px;height:13px;line-height:13px;font-size:9.1px;font-weight:700;color:#333;">Status</div>
<div class="a" style="left:658px;top:255.6px;width:77.2px;height:19.9px;background:#fff;box-sizing:border-box;border:1px solid #f0f0f0"></div>
<div class="t" style="left:665px;top:259.95px;height:12px;line-height:12px;font-size:8.9px;font-weight:400;color:#cfcfcf;">select option(...</div>
<svg class="a" style="left:724px;top:260.8px" width="10" height="10" viewBox="0 0 10 10"><polyline points="2.4,3.7 5,6.3 7.6,3.7" fill="none" stroke="#666" stroke-width="1.1"/></svg>
<div class="a" style="left:740.6px;top:255.8px;width:77.2px;height:19.8px;background:#03b365;border-radius:1px"></div>
<div class="t" style="left:740.6px;width:77.2px;text-align:center;top:259.7px;height:12px;line-height:12px;font-size:8.7px;font-weight:700;color:#fff;">Refresh</div>
<div class="a" style="left:161px;top:281px;width:77.9px;height:19.8px;background:#fff;box-sizing:border-box;border:1px solid #f0f0f0"></div>
<div class="t" style="left:168px;top:285.3px;height:12px;line-height:12px;font-size:8.9px;font-weight:400;color:#c4c4c4;">First name</div>
<div class="a" style="left:243.5px;top:281px;width:78px;height:19.8px;background:#fff;box-sizing:border-box;border:1px solid #f0f0f0"></div>
<div class="t" style="left:250.5px;top:285.3px;height:12px;line-height:12px;font-size:8.9px;font-weight:400;color:#c4c4c4;">Last name</div>
<div class="a" style="left:326.4px;top:281px;width:119.1px;height:19.8px;background:#fff;box-sizing:border-box;border:1px solid #f0f0f0"></div>
<div class="t" style="left:333.4px;top:285.3px;height:12px;line-height:12px;font-size:8.9px;font-weight:400;color:#c4c4c4;">Phone number</div>
<div class="a" style="left:450.6px;top:281px;width:78.3px;height:19.8px;background:#fff;box-sizing:border-box;border:1px solid #f0f0f0"></div>
<div class="t" style="left:457.6px;top:285.3px;height:12px;line-height:12px;font-size:8.9px;font-weight:400;color:#c4c4c4;">Customer ID</div>
<div class="a" style="left:533.5px;top:281px;width:78px;height:19.8px;background:#fff;box-sizing:border-box;border:1px solid #f0f0f0"></div>
<div class="t" style="left:540.5px;top:285.3px;height:12px;line-height:12px;font-size:8.9px;font-weight:400;color:#c4c4c4;">Account ID</div>
<div class="a" style="left:616.5px;top:281px;width:78px;height:19.8px;background:#fff;box-sizing:border-box;border:1px solid #f0f0f0"></div>
<div class="t" style="left:623.5px;top:285.3px;height:12px;line-height:12px;font-size:8.9px;font-weight:400;color:#c4c4c4;">Circuit ID</div>
<div class="a" style="left:740.6px;top:281px;width:77.2px;height:19.8px;background:#03b365;border-radius:1px"></div>
<div class="t" style="left:740.6px;width:77.2px;text-align:center;top:284.9px;height:12px;line-height:12px;font-size:8.7px;font-weight:700;color:#fff;">Clear</div>
<div class="a" style="left:155.5px;top:325.7px;width:668.3px;height:169.6px;background:#fff;"></div>
<svg class="a" style="left:169px;top:332px" width="12" height="12" viewBox="0 0 12 12"><circle cx="5" cy="5" r="3.8" fill="none" stroke="#aaa" stroke-width="1.3"/><line x1="7.8" y1="7.8" x2="10.5" y2="10.5" stroke="#aaa" stroke-width="1.4"/></svg>
<div class="t" style="left:184px;top:332.7px;height:11px;line-height:11px;font-size:8px;font-weight:400;color:#bdbdbd;">Search...</div>
<svg class="a" style="left:283px;top:332.8px" width="10" height="10" viewBox="0 0 10 10"><rect x="0.3" y="1.05" width="2" height="1.5" fill="#777"/><rect x="3.2" y="1.05" width="6.6" height="1.5" fill="#777"/><rect x="0.3" y="4.25" width="2" height="1.5" fill="#777"/><rect x="3.2" y="4.25" width="6.6" height="1.5" fill="#777"/><rect x="0.3" y="7.45" width="2" height="1.5" fill="#777"/><rect x="3.2" y="7.45" width="6.6" height="1.5" fill="#777"/></svg>
<div class="t" style="left:297.2px;top:332px;height:12px;line-height:12px;font-size:8.9px;font-weight:400;color:#8a8a8a;">Filters</div>
<svg class="a" style="left:331.5px;top:332.8px" width="11" height="10" viewBox="0 0 11 10"><path d="M0.8 2.6 C0.8 0.9 2.4 0.4 3.6 0.9 L5.5 3.2 L7.4 0.9 C8.6 0.4 10.2 0.9 10.2 2.6 C10.2 5.4 7.6 7.9 5.5 9.6 C3.4 7.9 0.8 5.4 0.8 2.6 Z" fill="#666"/></svg>
<div class="t" style="left:346.9px;top:332px;height:12px;line-height:12px;font-size:8.9px;font-weight:400;color:#8a8a8a;">Download</div>
<div class="a" style="left:754.2px;top:330.1px;width:14.8px;height:14.5px;background:#e6e6e6;box-sizing:border-box;border:1px solid #e0e0e0"></div>
<div class="a" style="left:774.4px;top:330.1px;width:14.8px;height:14.5px;background:#fff;box-sizing:border-box;border:1px solid #e3e3e3"></div>
<div class="a" style="left:794.8px;top:330.1px;width:14.8px;height:14.5px;background:#fff;box-sizing:border-box;border:1px solid #e3e3e3"></div>
<svg class="a" style="left:757.6px;top:333.35px" width="8" height="8" viewBox="0 0 8 8"><polyline points="5,1 2,4 5,7" fill="none" stroke="#aaa" stroke-width="1.2"/></svg>
<div class="t" style="left:774.4px;width:14.8px;text-align:center;top:331.35px;height:12px;line-height:12px;font-size:8.5px;font-weight:400;color:#666;">1</div>
<svg class="a" style="left:798.2px;top:333.35px" width="8" height="8" viewBox="0 0 8 8"><polyline points="3,1 6,4 3,7" fill="none" stroke="#888" stroke-width="1.2"/></svg>
<div class="a" style="left:155.5px;top:325.7px;width:668.3px;height:169.6px;overflow:hidden"><div class="a" style="left:-155.5px;top:-325.7px;width:1748px;height:1240px">
<div class="a" style="left:155.5px;top:349.5px;width:668.3px;height:20px;background:#f6f7f9;"></div>
<div class="a" style="left:155.5px;top:369.2px;width:668.3px;height:0.8px;background:#e9eaec;"></div>
<div class="a" style="left:155.5px;top:458.56px;width:668.3px;height:12.38px;background:#e9edf5;"></div>
<div class="a" style="left:155.5px;top:382.18px;width:668.3px;height:0.8px;background:#efefef;"></div>
<div class="a" style="left:155.5px;top:394.76px;width:668.3px;height:0.8px;background:#efefef;"></div>
<div class="a" style="left:155.5px;top:407.34px;width:668.3px;height:0.8px;background:#efefef;"></div>
<div class="a" style="left:155.5px;top:419.92px;width:668.3px;height:0.8px;background:#efefef;"></div>
<div class="a" style="left:155.5px;top:432.5px;width:668.3px;height:0.8px;background:#efefef;"></div>
<div class="a" style="left:155.5px;top:445.08px;width:668.3px;height:0.8px;background:#efefef;"></div>
<div class="a" style="left:155.5px;top:457.66px;width:668.3px;height:0.8px;background:#efefef;"></div>
<div class="a" style="left:155.5px;top:470.24px;width:668.3px;height:0.8px;background:#efefef;"></div>
<div class="a" style="left:155.5px;top:482.82px;width:668.3px;height:0.8px;background:#efefef;"></div>
<div class="a" style="left:249.1px;top:349.5px;width:0.8px;height:145.8px;background:#f0f0f0;"></div>
<div class="a" style="left:341.7px;top:349.5px;width:0.8px;height:145.8px;background:#f0f0f0;"></div>
<div class="a" style="left:437.9px;top:349.5px;width:0.8px;height:145.8px;background:#f0f0f0;"></div>
<div class="a" style="left:526.5px;top:349.5px;width:0.8px;height:145.8px;background:#f0f0f0;"></div>
<div class="a" style="left:621.5px;top:349.5px;width:0.8px;height:145.8px;background:#f0f0f0;"></div>
<div class="a" style="left:715.8px;top:349.5px;width:0.8px;height:145.8px;background:#f0f0f0;"></div>
<div class="a" style="left:807.8px;top:349.5px;width:0.8px;height:145.8px;background:#f0f0f0;"></div>
<div class="t" style="left:161.2px;top:353.6px;height:12px;line-height:12px;font-size:8.3px;font-weight:400;color:#505050;">id</div>
<div class="t" style="left:256.2px;top:353.6px;height:12px;line-height:12px;font-size:8.3px;font-weight:400;color:#505050;">firstName</div>
<div class="t" style="left:347.5px;top:353.6px;height:12px;line-height:12px;font-size:8.3px;font-weight:400;color:#505050;">lastName</div>
<div class="t" style="left:444.3px;top:353.6px;height:12px;line-height:12px;font-size:8.3px;font-weight:400;color:#505050;">phoneNumber</div>
<div class="t" style="left:533.2px;top:353.6px;height:12px;line-height:12px;font-size:8.3px;font-weight:400;color:#505050;">email</div>
<div class="t" style="left:627.5px;top:353.6px;height:12px;line-height:12px;font-size:8.3px;font-weight:400;color:#505050;">nationalIdNumber</div>
<div class="t" style="left:722.5px;top:353.6px;height:12px;line-height:12px;font-size:8.3px;font-weight:400;color:#505050;">customerType</div>
<div class="t" style="left:814.5px;top:353.6px;height:12px;line-height:12px;font-size:8.3px;font-weight:400;color:#505050;">status</div>
<div class="t" style="left:161.2px;top:370.19px;height:13px;line-height:13px;font-size:9.2px;font-weight:400;color:#333;">50577</div>
<div class="t" style="left:256.2px;top:370.19px;height:13px;line-height:13px;font-size:9.05px;font-weight:400;color:#333;">Abigael</div>
<div class="t" style="left:814.5px;top:370.69px;height:12px;line-height:12px;font-size:8.3px;font-weight:400;color:#333;">PO</div>
<div class="t" style="left:161.2px;top:382.77px;height:13px;line-height:13px;font-size:9.2px;font-weight:400;color:#333;">49671</div>
<div class="t" style="left:256.2px;top:382.77px;height:13px;line-height:13px;font-size:9.05px;font-weight:400;color:#333;">Agnes</div>
<div class="t" style="left:814.5px;top:383.27px;height:12px;line-height:12px;font-size:8.3px;font-weight:400;color:#333;">AC</div>
<div class="t" style="left:161.2px;top:395.35px;height:13px;line-height:13px;font-size:9.2px;font-weight:400;color:#333;">50591</div>
<div class="t" style="left:256.2px;top:395.35px;height:13px;line-height:13px;font-size:9.05px;font-weight:400;color:#333;">Agnes</div>
<div class="t" style="left:814.5px;top:395.85px;height:12px;line-height:12px;font-size:8.3px;font-weight:400;color:#333;">PO</div>
<div class="t" style="left:161.2px;top:407.93px;height:13px;line-height:13px;font-size:9.2px;font-weight:400;color:#333;">49734</div>
<div class="t" style="left:256.2px;top:407.93px;height:13px;line-height:13px;font-size:9.05px;font-weight:400;color:#333;">Agnes</div>
<div class="t" style="left:814.5px;top:408.43px;height:12px;line-height:12px;font-size:8.3px;font-weight:400;color:#333;">AC</div>
<div class="t" style="left:161.2px;top:420.51px;height:13px;line-height:13px;font-size:9.2px;font-weight:400;color:#333;">53114</div>
<div class="t" style="left:256.2px;top:420.51px;height:13px;line-height:13px;font-size:9.05px;font-weight:400;color:#333;">Albert</div>
<div class="t" style="left:814.5px;top:421.01px;height:12px;line-height:12px;font-size:8.3px;font-weight:400;color:#333;">PO</div>
<div class="t" style="left:161.2px;top:433.09px;height:13px;line-height:13px;font-size:9.2px;font-weight:400;color:#333;">49740</div>
<div class="t" style="left:256.2px;top:433.09px;height:13px;line-height:13px;font-size:9.05px;font-weight:400;color:#333;">Alice</div>
<div class="t" style="left:814.5px;top:433.59px;height:12px;line-height:12px;font-size:8.3px;font-weight:400;color:#333;">AC</div>
<div class="t" style="left:161.2px;top:445.67px;height:13px;line-height:13px;font-size:9.2px;font-weight:400;color:#333;">49715</div>
<div class="t" style="left:256.2px;top:445.67px;height:13px;line-height:13px;font-size:9.05px;font-weight:400;color:#333;">Alice</div>
<div class="t" style="left:814.5px;top:446.17px;height:12px;line-height:12px;font-size:8.3px;font-weight:400;color:#333;">AC</div>
<div class="t" style="left:161.2px;top:458.25px;height:13px;line-height:13px;font-size:9.2px;font-weight:400;color:#333;">50592</div>
<div class="t" style="left:256.2px;top:458.25px;height:13px;line-height:13px;font-size:9.05px;font-weight:400;color:#333;">Andrew</div>
<div class="t" style="left:814.5px;top:458.75px;height:12px;line-height:12px;font-size:8.3px;font-weight:400;color:#333;">AC</div>
<div class="t" style="left:161.2px;top:470.83px;height:13px;line-height:13px;font-size:9.2px;font-weight:400;color:#333;">52394</div>
<div class="t" style="left:256.2px;top:470.83px;height:13px;line-height:13px;font-size:9.05px;font-weight:400;color:#333;">Andrew</div>
<div class="t" style="left:814.5px;top:471.33px;height:12px;line-height:12px;font-size:8.3px;font-weight:400;color:#333;">AC</div>
<div class="t" style="left:161.2px;top:483.41px;height:13px;line-height:13px;font-size:9.2px;font-weight:400;color:#333;">49729</div>
<div class="t" style="left:256.2px;top:483.41px;height:13px;line-height:13px;font-size:9.05px;font-weight:400;color:#333;">Annah</div>
<div class="t" style="left:814.5px;top:483.91px;height:12px;line-height:12px;font-size:8.3px;font-weight:400;color:#333;">AC</div>
<div class="a" style="left:716.6px;top:370.5px;width:80.9px;height:124px;background:#fff;"></div>
<div class="t" style="left:722.5px;top:370.69px;height:12px;line-height:12px;font-size:8.3px;font-weight:400;color:#e9e9e9;">RESIDENTIAL</div>
<div class="t" style="left:722.5px;top:383.27px;height:12px;line-height:12px;font-size:8.3px;font-weight:400;color:#e9e9e9;">RESIDENTIAL</div>
<div class="t" style="left:722.5px;top:395.85px;height:12px;line-height:12px;font-size:8.3px;font-weight:400;color:#e9e9e9;">RESIDENTIAL</div>
<div class="t" style="left:722.5px;top:408.43px;height:12px;line-height:12px;font-size:8.3px;font-weight:400;color:#e9e9e9;">RESIDENTIAL</div>
<div class="t" style="left:722.5px;top:421.01px;height:12px;line-height:12px;font-size:8.3px;font-weight:400;color:#e9e9e9;">RESIDENTIAL</div>
<div class="t" style="left:722.5px;top:433.59px;height:12px;line-height:12px;font-size:8.3px;font-weight:400;color:#e9e9e9;">RESIDENTIAL</div>
<div class="t" style="left:722.5px;top:446.17px;height:12px;line-height:12px;font-size:8.3px;font-weight:400;color:#e9e9e9;">RESIDENTIAL</div>
<div class="t" style="left:722.5px;top:458.75px;height:12px;line-height:12px;font-size:8.3px;font-weight:400;color:#e9e9e9;">RESIDENTIAL</div>
<div class="t" style="left:722.5px;top:471.33px;height:12px;line-height:12px;font-size:8.3px;font-weight:400;color:#e9e9e9;">RESIDENTIAL</div>
<div class="t" style="left:722.5px;top:483.91px;height:12px;line-height:12px;font-size:8.3px;font-weight:400;color:#e9e9e9;">RESIDENTIAL</div>
</div></div>
<div class="a" style="left:346.5px;top:371.5px;width:53px;height:121.6px;background:#2b2b2b;"></div>
<div class="a" style="left:346.5px;top:371.5px;width:53px;height:121.6px;overflow:hidden"><div class="a" style="left:-346.5px;top:-371.5px;width:1748px;height:1240px">
<div class="t" style="left:347.5px;top:370.19px;height:13px;line-height:13px;font-size:9.2px;font-weight:400;color:#313131;">Mwangi</div>
<div class="t" style="left:347.5px;top:382.77px;height:13px;line-height:13px;font-size:9.2px;font-weight:400;color:#313131;">Chebeta</div>
<div class="t" style="left:347.5px;top:395.35px;height:13px;line-height:13px;font-size:9.2px;font-weight:400;color:#313131;">Nyamoko</div>
<div class="t" style="left:347.5px;top:407.93px;height:13px;line-height:13px;font-size:9.2px;font-weight:400;color:#313131;">Nyakio</div>
<div class="t" style="left:347.5px;top:420.51px;height:13px;line-height:13px;font-size:9.2px;font-weight:400;color:#313131;">Ochienge</div>
<div class="t" style="left:347.5px;top:433.09px;height:13px;line-height:13px;font-size:9.2px;font-weight:400;color:#313131;">Wafula</div>
<div class="t" style="left:347.5px;top:445.67px;height:13px;line-height:13px;font-size:9.2px;font-weight:400;color:#313131;">Nyambura</div>
<div class="t" style="left:347.5px;top:458.25px;height:13px;line-height:13px;font-size:9.2px;font-weight:400;color:#313131;">Nyamoko</div>
<div class="t" style="left:347.5px;top:470.83px;height:13px;line-height:13px;font-size:9.2px;font-weight:400;color:#313131;">Ochienge</div>
<div class="t" style="left:347.5px;top:483.41px;height:13px;line-height:13px;font-size:9.2px;font-weight:400;color:#313131;">Wanja</div>
</div></div>
<div class="a" style="left:440.5px;top:371.5px;width:77.9px;height:121.6px;background:#2b2b2b;"></div>
<div class="a" style="left:440.5px;top:371.5px;width:77.9px;height:121.6px;overflow:hidden"><div class="a" style="left:-440.5px;top:-371.5px;width:1748px;height:1240px">
<div class="t" style="left:446.3px;top:370.19px;height:13px;line-height:13px;font-size:9.2px;font-weight:400;color:#303030;">+254700040801</div>
<div class="t" style="left:446.3px;top:382.77px;height:13px;line-height:13px;font-size:9.2px;font-weight:400;color:#303030;">+254713745891</div>
<div class="t" style="left:446.3px;top:395.35px;height:13px;line-height:13px;font-size:9.2px;font-weight:400;color:#303030;">+254726440881</div>
<div class="t" style="left:446.3px;top:407.93px;height:13px;line-height:13px;font-size:9.2px;font-weight:400;color:#303030;">+254739145871</div>
<div class="t" style="left:446.3px;top:420.51px;height:13px;line-height:13px;font-size:9.2px;font-weight:400;color:#303030;">+254742840861</div>
<div class="t" style="left:446.3px;top:433.09px;height:13px;line-height:13px;font-size:9.2px;font-weight:400;color:#303030;">+254755545851</div>
<div class="t" style="left:446.3px;top:445.67px;height:13px;line-height:13px;font-size:9.2px;font-weight:400;color:#303030;">+254768240841</div>
<div class="t" style="left:446.3px;top:458.25px;height:13px;line-height:13px;font-size:9.2px;font-weight:400;color:#303030;">+254771945831</div>
<div class="t" style="left:446.3px;top:470.83px;height:13px;line-height:13px;font-size:9.2px;font-weight:400;color:#303030;">+254784640821</div>
<div class="t" style="left:446.3px;top:483.41px;height:13px;line-height:13px;font-size:9.2px;font-weight:400;color:#303030;">+254797345811</div>
</div></div>
<div class="a" style="left:624.3px;top:371.5px;width:78px;height:121.6px;background:#2b2b2b;"></div>
<div class="a" style="left:624.3px;top:371.5px;width:78px;height:121.6px;overflow:hidden"><div class="a" style="left:-624.3px;top:-371.5px;width:1748px;height:1240px">
<div class="t" style="left:631.5px;top:370.19px;height:13px;line-height:13px;font-size:9.2px;font-weight:400;color:#303030;">2000000</div>
<div class="t" style="left:631.5px;top:382.77px;height:13px;line-height:13px;font-size:9.2px;font-weight:400;color:#303030;">2371924</div>
<div class="t" style="left:631.5px;top:395.35px;height:13px;line-height:13px;font-size:9.2px;font-weight:400;color:#303030;">2642848</div>
<div class="t" style="left:631.5px;top:407.93px;height:13px;line-height:13px;font-size:9.2px;font-weight:400;color:#303030;">2913762</div>
<div class="t" style="left:631.5px;top:420.51px;height:13px;line-height:13px;font-size:9.2px;font-weight:400;color:#303030;">2284686</div>
<div class="t" style="left:631.5px;top:433.09px;height:13px;line-height:13px;font-size:9.2px;font-weight:400;color:#303030;">2555500</div>
<div class="t" style="left:631.5px;top:445.67px;height:13px;line-height:13px;font-size:9.2px;font-weight:400;color:#303030;">2826424</div>
<div class="t" style="left:631.5px;top:458.25px;height:13px;line-height:13px;font-size:9.2px;font-weight:400;color:#303030;">2197348</div>
<div class="t" style="left:631.5px;top:470.83px;height:13px;line-height:13px;font-size:9.2px;font-weight:400;color:#303030;">2468262</div>
<div class="t" style="left:631.5px;top:483.41px;height:13px;line-height:13px;font-size:9.2px;font-weight:400;color:#303030;">2739186</div>
</div></div>
<div class="a" style="left:450px;top:502.2px;width:78.9px;height:19.4px;background:#03b365;border-radius:1px"></div>
<div class="t" style="left:450px;width:78.9px;text-align:center;top:505.9px;height:12px;line-height:12px;font-size:8.7px;font-weight:700;color:#fff;">Reload</div>
<div class="t" style="left:155.2px;top:502.8px;height:20px;line-height:20px;font-size:14.6px;font-weight:700;color:#1e1e1e;">Andrew</div>
<div class="a" style="left:213.7px;top:504.8px;width:68.7px;height:15.5px;background:#2f2f2f;"></div>
<div class="a" style="left:213.7px;top:504.8px;width:68.7px;height:15.5px;overflow:hidden"><div class="a" style="left:-213.7px;top:-504.8px;width:1748px;height:1240px">
<div class="t" style="left:215px;top:502.8px;height:20px;line-height:20px;font-size:14.6px;font-weight:700;color:#1f1f1f;">Nyamoko</div>
</div></div>
<div class="a" style="left:618.5px;top:502.2px;width:78.8px;height:19.4px;background:#03b365;border-radius:1px"></div>
<div class="t" style="left:618.5px;width:78.8px;text-align:center;top:505.9px;height:12px;line-height:12px;font-size:8.7px;font-weight:700;color:#fff;">Set Circuit</div>
<div class="a" style="left:702.8px;top:502.2px;width:79.3px;height:19.4px;background:#03b365;border-radius:1px"></div>
<div class="t" style="left:702.8px;width:79.3px;text-align:center;top:505.9px;height:12px;line-height:12px;font-size:8.7px;font-weight:700;color:#fff;">Remove Circuit</div>
<div class="a" style="left:154.5px;top:526.8px;width:248.3px;height:399px;background:#fff;"></div>
<div class="a" style="left:407.2px;top:526.8px;width:206.4px;height:222.5px;background:#fff;"></div>
<div class="a" style="left:407.2px;top:753.7px;width:206.4px;height:172.1px;background:#fff;"></div>
<div class="a" style="left:618.2px;top:526.8px;width:206.3px;height:399px;background:#fff;"></div>
<div class="t" style="left:161px;top:535.8px;height:16px;line-height:16px;font-size:11.3px;font-weight:700;color:#252525;">Customer</div>
<div class="t" style="left:280.8px;top:536.8px;height:14px;line-height:14px;font-size:10.1px;font-weight:700;color:#333;">#50592</div>
<div class="t" style="left:161px;top:563.3px;height:13px;line-height:13px;font-size:9.1px;font-weight:700;color:#333;">Type</div>
<div class="t" style="left:281px;top:563.6px;height:12px;line-height:12px;font-size:8.5px;font-weight:400;color:#4a4a4a;">RESIDENTIAL</div>
<div class="t" style="left:161px;top:588.54px;height:13px;line-height:13px;font-size:9.1px;font-weight:700;color:#333;">National ID</div>
<div class="t" style="left:161px;top:613.78px;height:13px;line-height:13px;font-size:9.1px;font-weight:700;color:#333;">Phone Number</div>
<div class="t" style="left:161px;top:639.02px;height:13px;line-height:13px;font-size:9.1px;font-weight:700;color:#333;">Email</div>
<div class="t" style="left:161px;top:664.26px;height:13px;line-height:13px;font-size:9.1px;font-weight:700;color:#333;">Tariff</div>
<div class="t" style="left:281px;top:663.96px;height:13px;line-height:13px;font-size:9.4px;font-weight:400;color:#4a4a4a;">75</div>
<div class="t" style="left:161px;top:689.5px;height:13px;line-height:13px;font-size:9.1px;font-weight:700;color:#333;">Status</div>
<div class="t" style="left:281px;top:689.8px;height:12px;line-height:12px;font-size:8.5px;font-weight:400;color:#4a4a4a;">ACTIVE</div>
<div class="t" style="left:161px;top:714.74px;height:13px;line-height:13px;font-size:9.1px;font-weight:700;color:#333;">Last Usage</div>
<div class="t" style="left:281px;top:714.44px;height:13px;line-height:13px;font-size:9.4px;font-weight:400;color:#4a4a4a;">16-09-2021 04:45</div>
<div class="t" style="left:161px;top:739.98px;height:13px;line-height:13px;font-size:9.1px;font-weight:700;color:#333;">Cumul. Daily Wh</div>
<div class="t" style="left:281px;top:739.68px;height:13px;line-height:13px;font-size:9.4px;font-weight:400;color:#4a4a4a;">14.34 Wh</div>
<div class="t" style="left:161px;top:765.22px;height:13px;line-height:13px;font-size:9.1px;font-weight:700;color:#333;">Stima Contract v1</div>
<div class="t" style="left:161px;top:790.46px;height:13px;line-height:13px;font-size:9.1px;font-weight:700;color:#333;">Stima Contract v3</div>
<div class="t" style="left:161px;top:815.7px;height:13px;line-height:13px;font-size:9.1px;font-weight:700;color:#333;">Municipality</div>
<div class="t" style="left:281px;top:815.4px;height:13px;line-height:13px;font-size:9.4px;font-weight:400;color:#4a4a4a;">128</div>
<div class="t" style="left:161px;top:840.94px;height:13px;line-height:13px;font-size:9.1px;font-weight:700;color:#333;">Preferred Language</div>
<div class="t" style="left:281px;top:840.64px;height:13px;line-height:13px;font-size:9.4px;font-weight:400;color:#4a4a4a;">Kiswahili</div>
<div class="t" style="left:161px;top:866.18px;height:13px;line-height:13px;font-size:9.1px;font-weight:700;color:#333;">Created</div>
<div class="t" style="left:281px;top:865.88px;height:13px;line-height:13px;font-size:9.4px;font-weight:400;color:#4a4a4a;">14-11-2019 12:38</div>
<div class="t" style="left:161px;top:891.42px;height:13px;line-height:13px;font-size:9.1px;font-weight:700;color:#333;">Updated</div>
<div class="t" style="left:281px;top:891.12px;height:13px;line-height:13px;font-size:9.4px;font-weight:400;color:#4a4a4a;">16-09-2021 04:57</div>
<div class="a" style="left:378.3px;top:760.8px;width:19px;height:19.8px;background:#03b365;border-radius:1px"></div>
<div class="a" style="left:383.43px;top:766.73px;width:8.74px;height:1.2px;background:#fff;"></div>
<div class="a" style="left:383.43px;top:770.1px;width:8.74px;height:1.2px;background:#fff;"></div>
<div class="a" style="left:383.43px;top:773.47px;width:8.74px;height:1.2px;background:#fff;"></div>
<div class="a" style="left:378.3px;top:786.2px;width:19px;height:19.8px;background:#03b365;border-radius:1px"></div>
<div class="a" style="left:383.43px;top:792.13px;width:8.74px;height:1.2px;background:#fff;"></div>
<div class="a" style="left:383.43px;top:795.5px;width:8.74px;height:1.2px;background:#fff;"></div>
<div class="a" style="left:383.43px;top:798.87px;width:8.74px;height:1.2px;background:#fff;"></div>
<div class="a" style="left:341.5px;top:534px;width:54.6px;height:19.6px;background:#03b365;border-radius:1px"></div>
<div class="t" style="left:341.5px;width:54.6px;text-align:center;top:537.8px;height:12px;line-height:12px;font-size:8.7px;font-weight:700;color:#fff;">Edit</div>
<div class="a" style="left:277.3px;top:586.2px;width:84.2px;height:15.1px;background:#2b2b2b;"></div>
<div class="a" style="left:277.3px;top:611.7px;width:84.2px;height:15.3px;background:#2b2b2b;"></div>
<div class="t" style="left:281px;top:761.2px;height:11px;line-height:11px;font-size:8.2px;font-weight:400;color:#4a4a4a;">2b57e11a-3964-47c5-</div>
<div class="t" style="left:281px;top:769.7px;height:11px;line-height:11px;font-size:8.2px;font-weight:400;color:#4a4a4a;">b8ef-74f0f9e848f0</div>
<div class="t" style="left:281px;top:786.6px;height:11px;line-height:11px;font-size:8.2px;font-weight:400;color:#4a4a4a;">66288011-ec9a-4702-</div>
<div class="t" style="left:281px;top:795.1px;height:11px;line-height:11px;font-size:8.2px;font-weight:400;color:#4a4a4a;">b60e-2155e75d0fc2</div>
<div class="t" style="left:414px;top:535.8px;height:16px;line-height:16px;font-size:11.3px;font-weight:700;color:#252525;">Account</div>
<div class="t" style="left:513.2px;top:536.8px;height:14px;line-height:14px;font-size:10.1px;font-weight:700;color:#333;">#54401</div>
<div class="t" style="left:414px;top:563.3px;height:13px;line-height:13px;font-size:9.1px;font-weight:700;color:#333;">Account Balance</div>
<div class="t" style="left:513.2px;top:563px;height:13px;line-height:13px;font-size:9.4px;font-weight:400;color:#4a4a4a;">14.99 ksh</div>
<div class="t" style="left:414px;top:588.54px;height:13px;line-height:13px;font-size:9.1px;font-weight:700;color:#333;">Uncollected Balance</div>
<div class="t" style="left:513.2px;top:588.24px;height:13px;line-height:13px;font-size:9.4px;font-weight:400;color:#4a4a4a;">-484.22 ksh</div>
<div class="t" style="left:414px;top:613.78px;height:13px;line-height:13px;font-size:9.1px;font-weight:700;color:#333;">Clearing Balance</div>
<div class="t" style="left:513.2px;top:613.48px;height:13px;line-height:13px;font-size:9.4px;font-weight:400;color:#4a4a4a;">0.00 ksh</div>
<div class="t" style="left:513.2px;top:638.72px;height:13px;line-height:13px;font-size:9.4px;font-weight:400;color:#4a4a4a;">3950.00 ksh</div>
<div class="t" style="left:414px;top:664.26px;height:13px;line-height:13px;font-size:9.1px;font-weight:700;color:#333;">Payment Split</div>
<div class="t" style="left:513.2px;top:663.96px;height:13px;line-height:13px;font-size:9.4px;font-weight:400;color:#4a4a4a;">0.8</div>
<div class="t" style="left:414px;top:689.5px;height:13px;line-height:13px;font-size:9.1px;font-weight:700;color:#333;">Tariff</div>
<div class="t" style="left:513.2px;top:689.2px;height:13px;line-height:13px;font-size:9.4px;font-weight:400;color:#4a4a4a;">75</div>
<div class="t" style="left:414px;top:714.74px;height:13px;line-height:13px;font-size:9.1px;font-weight:700;color:#333;">Updated</div>
<div class="t" style="left:513.2px;top:714.44px;height:13px;line-height:13px;font-size:9.4px;font-weight:400;color:#4a4a4a;">16-09-2021 05:01</div>
<div class="t" style="left:414px;top:633.1px;height:13px;line-height:13px;font-size:9.1px;font-weight:700;color:#333;">Total Conn.</div>
<div class="t" style="left:414px;top:643.7px;height:13px;line-height:13px;font-size:9.1px;font-weight:700;color:#333;">Payments</div>
<div class="a" style="left:562.5px;top:534px;width:44.6px;height:19.6px;background:#03b365;border-radius:1px"></div>
<div class="t" style="left:562.5px;width:44.6px;text-align:center;top:537.8px;height:12px;line-height:12px;font-size:8.7px;font-weight:700;color:#fff;">Edit</div>
<div class="t" style="left:414px;top:763px;height:16px;line-height:16px;font-size:11.3px;font-weight:700;color:#252525;">Active Bundle</div>
<div class="t" style="left:414px;top:789.2px;height:13px;line-height:13px;font-size:9.1px;font-weight:700;color:#333;">Type</div>
<div class="t" style="left:414px;top:814.4px;height:13px;line-height:13px;font-size:9.1px;font-weight:700;color:#333;">Start</div>
<div class="t" style="left:414px;top:839.6px;height:13px;line-height:13px;font-size:9.1px;font-weight:700;color:#333;">End</div>
<div class="t" style="left:414px;top:864.8px;height:13px;line-height:13px;font-size:9.1px;font-weight:700;color:#333;">Wh limit</div>
<div class="t" style="left:513.2px;top:864.8px;height:13px;line-height:13px;font-size:9px;font-weight:400;color:#444;">0</div>
<div class="t" style="left:414px;top:890px;height:13px;line-height:13px;font-size:9.1px;font-weight:700;color:#333;">Last SMS</div>
<div class="t" style="left:513.2px;top:890px;height:13px;line-height:13px;font-size:9px;font-weight:400;color:#444;">0</div>
<div class="t" style="left:624.7px;top:535.8px;height:16px;line-height:16px;font-size:11.3px;font-weight:700;color:#252525;">Circuit</div>
<div class="t" style="left:724px;top:536.8px;height:14px;line-height:14px;font-size:10.1px;font-weight:700;color:#333;">#49041</div>
<div class="t" style="left:624.7px;top:563.3px;height:13px;line-height:13px;font-size:9.1px;font-weight:700;color:#333;">Switch State</div>
<div class="t" style="left:724px;top:563.6px;height:12px;line-height:12px;font-size:8.5px;font-weight:400;color:#4a4a4a;">ENABLED</div>
<div class="t" style="left:624.7px;top:588.54px;height:13px;line-height:13px;font-size:9.1px;font-weight:700;color:#333;">Grid</div>
<div class="t" style="left:724px;top:588.24px;height:13px;line-height:13px;font-size:9.4px;font-weight:400;color:#4a4a4a;">128</div>
<div class="t" style="left:624.7px;top:613.78px;height:13px;line-height:13px;font-size:9.1px;font-weight:700;color:#333;">Base Station</div>
<div class="t" style="left:724px;top:613.48px;height:13px;line-height:13px;font-size:9.4px;font-weight:400;color:#4a4a4a;">SPARK-806</div>
<div class="t" style="left:624.7px;top:639.02px;height:13px;line-height:13px;font-size:9.1px;font-weight:700;color:#333;">Circuit No.</div>
<div class="t" style="left:724px;top:638.72px;height:13px;line-height:13px;font-size:9.4px;font-weight:400;color:#4a4a4a;">88</div>
<div class="t" style="left:624.7px;top:664.26px;height:13px;line-height:13px;font-size:9.1px;font-weight:700;color:#333;">Device</div>
<div class="t" style="left:724px;top:663.96px;height:13px;line-height:13px;font-size:9.4px;font-weight:400;color:#4a4a4a;">SM16R-03-00011488</div>
<div class="t" style="left:624.7px;top:689.5px;height:13px;line-height:13px;font-size:9.1px;font-weight:700;color:#333;">Status</div>
<div class="t" style="left:724px;top:689.8px;height:12px;line-height:12px;font-size:8.5px;font-weight:400;color:#4a4a4a;">UNKNOWN</div>
<div class="t" style="left:624.7px;top:714.74px;height:13px;line-height:13px;font-size:9.1px;font-weight:700;color:#333;">Override Enabled</div>
<div class="t" style="left:624.7px;top:739.98px;height:13px;line-height:13px;font-size:9.1px;font-weight:700;color:#333;">Fault Count</div>
<div class="t" style="left:724px;top:739.68px;height:13px;line-height:13px;font-size:9.4px;font-weight:400;color:#4a4a4a;">0</div>
<div class="t" style="left:624.7px;top:765.22px;height:13px;line-height:13px;font-size:9.1px;font-weight:700;color:#333;">Created</div>
<div class="t" style="left:724px;top:764.92px;height:13px;line-height:13px;font-size:9.4px;font-weight:400;color:#4a4a4a;">24-06-2020 14:34</div>
<div class="t" style="left:624.7px;top:790.46px;height:13px;line-height:13px;font-size:9.1px;font-weight:700;color:#333;">Updated</div>
<div class="t" style="left:724px;top:790.16px;height:13px;line-height:13px;font-size:9.4px;font-weight:400;color:#4a4a4a;">16-09-2021 11:20</div>
<div class="t" style="left:624.7px;top:815.7px;height:13px;line-height:13px;font-size:9.1px;font-weight:700;color:#333;">Grid Opera. Date</div>
<div class="t" style="left:724px;top:815.4px;height:13px;line-height:13px;font-size:9.4px;font-weight:400;color:#4a4a4a;">2020-06-29</div>
<div class="t" style="left:624.7px;top:840.94px;height:13px;line-height:13px;font-size:9.1px;font-weight:700;color:#333;">Grid Project</div>
<div class="t" style="left:724px;top:840.64px;height:13px;line-height:13px;font-size:9.4px;font-weight:400;color:#4a4a4a;">Cloverfield</div>
<div class="t" style="left:624.7px;top:866.18px;height:13px;line-height:13px;font-size:9.1px;font-weight:700;color:#333;">Grid Municipality</div>
<div class="t" style="left:724px;top:865.88px;height:13px;line-height:13px;font-size:9.4px;font-weight:400;color:#4a4a4a;">128</div>
<div class="t" style="left:624.7px;top:891.42px;height:13px;line-height:13px;font-size:9.1px;font-weight:700;color:#333;">Grid Village</div>
<div class="t" style="left:724px;top:891.12px;height:13px;line-height:13px;font-size:9.4px;font-weight:400;color:#4a4a4a;">Baraine</div>
<div class="a" style="left:773.5px;top:534px;width:44.5px;height:19.6px;background:#03b365;border-radius:1px"></div>
<div class="t" style="left:773.5px;width:44.5px;text-align:center;top:537.8px;height:12px;line-height:12px;font-size:8.7px;font-weight:700;color:#fff;">Edit</div>
<div class="a" style="left:674.5px;top:660.2px;width:44.3px;height:19.4px;background:#03b365;border-radius:1px"></div>
<div class="t" style="left:674.5px;width:44.3px;text-align:center;top:663.9px;height:12px;line-height:12px;font-size:8.7px;font-weight:700;color:#fff;">View</div>
<div class="a" style="left:154.6px;top:936.3px;width:669.4px;height:108.7px;background:#fff;"></div>
<div class="a" style="left:226.4px;top:956.3px;width:597.6px;height:0.8px;background:#efefef;"></div>
<div class="a" style="left:226px;top:939px;width:0.8px;height:18px;background:#f0f0f0;"></div>
<div class="a" style="left:154.6px;top:936.6px;width:71.4px;height:2.8px;background:#2f9462;border-radius:1px"></div>
<div class="t" style="left:165.3px;top:941.6px;height:12px;line-height:12px;font-size:8.9px;font-weight:400;color:#555;">Transactions</div>
<div class="t" style="left:236.8px;top:941.6px;height:12px;line-height:12px;font-size:8.9px;font-weight:400;color:#555;">Payments</div>
<div class="t" style="left:297.2px;top:941.6px;height:12px;line-height:12px;font-size:8.9px;font-weight:400;color:#555;">Adjustments</div>
<div class="t" style="left:368px;top:941.6px;height:12px;line-height:12px;font-size:8.9px;font-weight:400;color:#555;">Bundles</div>
<div class="t" style="left:420.9px;top:941.6px;height:12px;line-height:12px;font-size:8.9px;font-weight:400;color:#555;">Loans</div>
<div class="t" style="left:465.4px;top:941.6px;height:12px;line-height:12px;font-size:8.9px;font-weight:400;color:#555;">Circuit</div>
<div class="t" style="left:512.5px;top:941.6px;height:12px;line-height:12px;font-size:8.9px;font-weight:400;color:#555;">Usage</div>
<div class="t" style="left:558.6px;top:941.6px;height:12px;line-height:12px;font-size:8.9px;font-weight:400;color:#555;">SMS</div>
<div class="t" style="left:597.6px;top:941.6px;height:12px;line-height:12px;font-size:8.9px;font-weight:400;color:#555;">Location</div>
<div class="t" style="left:653px;top:941.6px;height:12px;line-height:12px;font-size:8.9px;font-weight:400;color:#555;">Support</div>
<div class="t" style="left:706px;top:941.6px;height:12px;line-height:12px;font-size:8.9px;font-weight:400;color:#555;">Activity</div>
<div class="t" style="left:756.6px;top:941.6px;height:12px;line-height:12px;font-size:8.9px;font-weight:400;color:#555;">Admin</div>
<div class="t" style="left:161.2px;top:970.9px;height:16px;line-height:16px;font-size:11.25px;font-weight:700;color:#252525;">Transactions</div>
<div class="t" style="left:423.2px;top:972.6px;height:12px;line-height:12px;font-size:8.85px;font-weight:700;color:#333;">From</div>
<div class="a" style="left:450.3px;top:968.3px;width:119.6px;height:20.1px;background:#fff;box-sizing:border-box;border:1px solid #f0f0f0"></div>
<div class="t" style="left:457.3px;top:972.75px;height:12px;line-height:12px;font-size:8.7px;font-weight:400;color:#c8c8c8;">Select Date</div>
<div class="t" style="left:600.5px;top:972.6px;height:12px;line-height:12px;font-size:8.85px;font-weight:700;color:#333;">To</div>
<div class="a" style="left:616.5px;top:968.3px;width:118.8px;height:20.1px;background:#fff;box-sizing:border-box;border:1px solid #f0f0f0"></div>
<div class="t" style="left:623.5px;top:972.75px;height:12px;line-height:12px;font-size:8.7px;font-weight:400;color:#c8c8c8;">Select Date</div>
<div class="a" style="left:740.3px;top:969px;width:77.5px;height:19.4px;background:#03b365;border-radius:1px"></div>
<div class="t" style="left:740.3px;width:77.5px;text-align:center;top:972.7px;height:12px;line-height:12px;font-size:8.7px;font-weight:700;color:#fff;">Reload</div>
<div class="a" style="left:161.6px;top:994.6px;width:656.2px;height:50.4px;background:#fff;box-sizing:border-box;border:1px solid #eeeeee"></div>
<svg class="a" style="left:174px;top:1001.3px" width="12" height="12" viewBox="0 0 12 12"><circle cx="5" cy="5" r="3.8" fill="none" stroke="#aaa" stroke-width="1.3"/><line x1="7.8" y1="7.8" x2="10.5" y2="10.5" stroke="#aaa" stroke-width="1.4"/></svg>
<div class="t" style="left:190px;top:1001.9px;height:11px;line-height:11px;font-size:8px;font-weight:400;color:#c4c4c4;">Search...</div>
<svg class="a" style="left:288.5px;top:1002px" width="10" height="10" viewBox="0 0 10 10"><rect x="0.3" y="1.05" width="2" height="1.5" fill="#999"/><rect x="3.2" y="1.05" width="6.6" height="1.5" fill="#999"/><rect x="0.3" y="4.25" width="2" height="1.5" fill="#999"/><rect x="3.2" y="4.25" width="6.6" height="1.5" fill="#999"/><rect x="0.3" y="7.45" width="2" height="1.5" fill="#999"/><rect x="3.2" y="7.45" width="6.6" height="1.5" fill="#999"/></svg>
<div class="t" style="left:302.5px;top:1001.4px;height:12px;line-height:12px;font-size:8.9px;font-weight:400;color:#8a8a8a;">Filters</div>
<svg class="a" style="left:337.5px;top:1002px" width="11" height="10" viewBox="0 0 11 10"><path d="M0.8 2.6 C0.8 0.9 2.4 0.4 3.6 0.9 L5.5 3.2 L7.4 0.9 C8.6 0.4 10.2 0.9 10.2 2.6 C10.2 5.4 7.6 7.9 5.5 9.6 C3.4 7.9 0.8 5.4 0.8 2.6 Z" fill="#666"/></svg>
<div class="t" style="left:351.5px;top:1001.4px;height:12px;line-height:12px;font-size:8.9px;font-weight:400;color:#8a8a8a;">Download</div>
<div class="a" style="left:748px;top:999px;width:14.8px;height:14.6px;background:#e6e6e6;box-sizing:border-box;border:1px solid #e0e0e0"></div>
<div class="a" style="left:768.2px;top:999px;width:14.8px;height:14.6px;background:#fff;box-sizing:border-box;border:1px solid #e3e3e3"></div>
<div class="a" style="left:788.6px;top:999px;width:14.8px;height:14.6px;background:#fff;box-sizing:border-box;border:1px solid #e3e3e3"></div>
<svg class="a" style="left:751.4px;top:1002.3px" width="8" height="8" viewBox="0 0 8 8"><polyline points="5,1 2,4 5,7" fill="none" stroke="#aaa" stroke-width="1.2"/></svg>
<div class="t" style="left:768.2px;width:14.8px;text-align:center;top:1000.3px;height:12px;line-height:12px;font-size:8.5px;font-weight:400;color:#666;">1</div>
<svg class="a" style="left:792px;top:1002.3px" width="8" height="8" viewBox="0 0 8 8"><polyline points="3,1 6,4 3,7" fill="none" stroke="#888" stroke-width="1.2"/></svg>
<div class="a" style="left:162.6px;top:1018.4px;width:654.2px;height:26.6px;overflow:hidden"><div class="a" style="left:-162.6px;top:-1018.4px;width:1748px;height:1240px">
<div class="a" style="left:162.6px;top:1018.4px;width:654.2px;height:26.6px;background:#f6f7f9;"></div>
<div class="a" style="left:220.6px;top:1018.4px;width:0.8px;height:26.6px;background:#ebebeb;"></div>
<div class="a" style="left:322.6px;top:1018.4px;width:0.8px;height:26.6px;background:#ebebeb;"></div>
<div class="a" style="left:425.8px;top:1018.4px;width:0.8px;height:26.6px;background:#ebebeb;"></div>
<div class="a" style="left:477.4px;top:1018.4px;width:0.8px;height:26.6px;background:#ebebeb;"></div>
<div class="a" style="left:654.9px;top:1018.4px;width:0.8px;height:26.6px;background:#ebebeb;"></div>
<div class="a" style="left:694.5px;top:1018.4px;width:0.8px;height:26.6px;background:#ebebeb;"></div>
<div class="a" style="left:741.1px;top:1018.4px;width:0.8px;height:26.6px;background:#ebebeb;"></div>
<div class="a" style="left:801.1px;top:1018.4px;width:0.8px;height:26.6px;background:#ebebeb;"></div>
<div class="t" style="left:167.5px;top:1023.3px;height:12px;line-height:12px;font-size:8.3px;font-weight:400;color:#505050;">id</div>
<div class="t" style="left:227.5px;top:1023.3px;height:12px;line-height:12px;font-size:8.3px;font-weight:400;color:#505050;">created</div>
<div class="t" style="left:329.5px;top:1023.3px;height:12px;line-height:12px;font-size:8.3px;font-weight:400;color:#505050;">sourceProcessedTime</div>
<div class="t" style="left:432.5px;top:1023.3px;height:12px;line-height:12px;font-size:8.3px;font-weight:400;color:#505050;">account...</div>
<div class="t" style="left:484.5px;top:1023.3px;height:12px;line-height:12px;font-size:8.3px;font-weight:400;color:#505050;">source</div>
<div class="t" style="left:660.9px;top:1023.3px;height:12px;line-height:12px;font-size:8.3px;font-weight:400;color:#505050;">trans...</div>
<div class="t" style="left:701px;top:1023.3px;height:12px;line-height:12px;font-size:8.3px;font-weight:400;color:#505050;">amount</div>
<div class="t" style="left:748px;top:1023.3px;height:12px;line-height:12px;font-size:8.3px;font-weight:400;color:#505050;">acct_bal</div>
<div class="t" style="left:807px;top:1023.3px;height:12px;line-height:12px;font-size:8.3px;font-weight:400;color:#505050;">unc</div>
</div></div>
</div></div>
<div class="a" style="left:114px;top:197px;width:750.2px;height:1.4px;background:#aaaaaa;"></div>
<svg class="a" style="left:114.2px;top:1036px" width="5" height="5" viewBox="0 0 5 5"><path d="M0 0 L0 5 L5 5 A5 5 0 0 1 0 0 Z" fill="#111"/></svg>
<svg class="a" style="left:859.4px;top:1036px" width="5" height="5" viewBox="0 0 5 5"><path d="M5 0 L5 5 L0 5 A5 5 0 0 0 5 0 Z" fill="#111"/></svg>
</div>
</body></html>
